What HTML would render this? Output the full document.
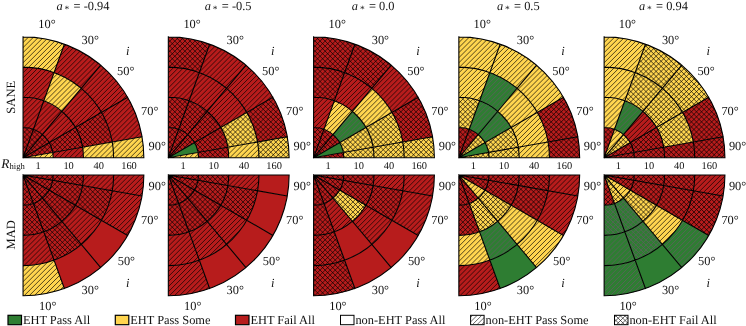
<!DOCTYPE html>
<html><head><meta charset="utf-8"><title>EHT constraints</title>
<style>
html,body{margin:0;padding:0;background:#fff}
svg{display:block}
text{font-family:"Liberation Serif",serif;font-size:12.4px;fill:#111;text-rendering:geometricPrecision}
.h{stroke:#000;stroke-opacity:0.85;stroke-width:0.8;fill:none}
.hg{stroke:#596359;stroke-opacity:1;stroke-width:0.9}
.o{stroke:#000;stroke-width:1.1;fill:none;stroke-linecap:square}
</style></head><body>
<svg width="746" height="326" viewBox="0 0 746 326">
<rect width="746" height="326" fill="#fff"/>
<defs>
<clipPath id="snt0"><path d="M23.05,157.7L33.38,129.32A30.2,30.2 0 0 0 23.05,127.5ZM23.05,157.7L42.46,134.57A30.2,30.2 0 0 0 33.38,129.32ZM23.05,157.7L49.2,142.6A30.2,30.2 0 0 0 42.46,134.57ZM23.05,157.7L52.79,152.46A30.2,30.2 0 0 0 49.2,142.6ZM23.05,157.7L53.25,157.7A30.2,30.2 0 0 0 52.79,152.46ZM23.05,127.5A30.2,30.2 0 0 1 33.38,129.32L43.71,100.94A60.4,60.4 0 0 0 23.05,97.3ZM33.38,129.32A30.2,30.2 0 0 1 42.46,134.57L61.87,111.43A60.4,60.4 0 0 0 43.71,100.94ZM42.46,134.57A30.2,30.2 0 0 1 49.2,142.6L75.36,127.5A60.4,60.4 0 0 0 61.87,111.43ZM49.2,142.6A30.2,30.2 0 0 1 52.79,152.46L82.53,147.21A60.4,60.4 0 0 0 75.36,127.5ZM52.79,152.46A30.2,30.2 0 0 1 53.25,157.7L83.45,157.7A60.4,60.4 0 0 0 82.53,147.21ZM23.05,97.3A60.4,60.4 0 0 1 43.71,100.94L54.04,72.56A90.6,90.6 0 0 0 23.05,67.1ZM43.71,100.94A60.4,60.4 0 0 1 61.87,111.43L81.29,88.3A90.6,90.6 0 0 0 54.04,72.56ZM61.87,111.43A60.4,60.4 0 0 1 75.36,127.5L101.51,112.4A90.6,90.6 0 0 0 81.29,88.3ZM75.36,127.5A60.4,60.4 0 0 1 82.53,147.21L112.27,141.97A90.6,90.6 0 0 0 101.51,112.4ZM82.53,147.21A60.4,60.4 0 0 1 83.45,157.7L113.65,157.7A90.6,90.6 0 0 0 112.27,141.97ZM23.05,67.1A90.6,90.6 0 0 1 54.04,72.56L64.37,44.19A120.8,120.8 0 0 0 23.05,36.9ZM54.04,72.56A90.6,90.6 0 0 1 81.29,88.3L100.7,65.16A120.8,120.8 0 0 0 64.37,44.19ZM81.29,88.3A90.6,90.6 0 0 1 101.51,112.4L127.67,97.3A120.8,120.8 0 0 0 100.7,65.16ZM101.51,112.4A90.6,90.6 0 0 1 112.27,141.97L142.01,136.72A120.8,120.8 0 0 0 127.67,97.3ZM112.27,141.97A90.6,90.6 0 0 1 113.65,157.7L143.85,157.7A120.8,120.8 0 0 0 142.01,136.72Z"/></clipPath>
<clipPath id="cnt0"><path d="M23.05,157.7L33.38,129.32A30.2,30.2 0 0 0 23.05,127.5ZM23.05,157.7L42.46,134.57A30.2,30.2 0 0 0 33.38,129.32ZM23.05,157.7L49.2,142.6A30.2,30.2 0 0 0 42.46,134.57ZM23.05,157.7L52.79,152.46A30.2,30.2 0 0 0 49.2,142.6ZM49.2,142.6A30.2,30.2 0 0 1 52.79,152.46L82.53,147.21A60.4,60.4 0 0 0 75.36,127.5ZM75.36,127.5A60.4,60.4 0 0 1 82.53,147.21L112.27,141.97A90.6,90.6 0 0 0 101.51,112.4Z"/></clipPath>
<clipPath id="snb0"><path d="M23.05,175L33.38,203.38A30.2,30.2 0 0 1 23.05,205.2ZM23.05,175L42.46,198.13A30.2,30.2 0 0 1 33.38,203.38ZM23.05,175L49.2,190.1A30.2,30.2 0 0 1 42.46,198.13ZM23.05,175L52.79,180.24A30.2,30.2 0 0 1 49.2,190.1ZM23.05,175L53.25,175A30.2,30.2 0 0 1 52.79,180.24ZM23.05,205.2A30.2,30.2 0 0 0 33.38,203.38L43.71,231.76A60.4,60.4 0 0 1 23.05,235.4ZM33.38,203.38A30.2,30.2 0 0 0 42.46,198.13L61.87,221.27A60.4,60.4 0 0 1 43.71,231.76ZM42.46,198.13A30.2,30.2 0 0 0 49.2,190.1L75.36,205.2A60.4,60.4 0 0 1 61.87,221.27ZM49.2,190.1A30.2,30.2 0 0 0 52.79,180.24L82.53,185.49A60.4,60.4 0 0 1 75.36,205.2ZM52.79,180.24A30.2,30.2 0 0 0 53.25,175L83.45,175A60.4,60.4 0 0 1 82.53,185.49ZM23.05,235.4A60.4,60.4 0 0 0 43.71,231.76L54.04,260.14A90.6,90.6 0 0 1 23.05,265.6ZM43.71,231.76A60.4,60.4 0 0 0 61.87,221.27L81.29,244.4A90.6,90.6 0 0 1 54.04,260.14ZM61.87,221.27A60.4,60.4 0 0 0 75.36,205.2L101.51,220.3A90.6,90.6 0 0 1 81.29,244.4ZM75.36,205.2A60.4,60.4 0 0 0 82.53,185.49L112.27,190.73A90.6,90.6 0 0 1 101.51,220.3ZM82.53,185.49A60.4,60.4 0 0 0 83.45,175L113.65,175A90.6,90.6 0 0 1 112.27,190.73ZM23.05,265.6A90.6,90.6 0 0 0 54.04,260.14L64.37,288.51A120.8,120.8 0 0 1 23.05,295.8ZM101.51,220.3A90.6,90.6 0 0 0 112.27,190.73L142.01,195.98A120.8,120.8 0 0 1 127.67,235.4ZM112.27,190.73A90.6,90.6 0 0 0 113.65,175L143.85,175A120.8,120.8 0 0 1 142.01,195.98Z"/></clipPath>
<clipPath id="cnb0"><path d="M23.05,175L33.38,203.38A30.2,30.2 0 0 1 23.05,205.2ZM23.05,175L42.46,198.13A30.2,30.2 0 0 1 33.38,203.38ZM23.05,175L49.2,190.1A30.2,30.2 0 0 1 42.46,198.13ZM23.05,175L52.79,180.24A30.2,30.2 0 0 1 49.2,190.1ZM23.05,175L53.25,175A30.2,30.2 0 0 1 52.79,180.24ZM23.05,205.2A30.2,30.2 0 0 0 33.38,203.38L43.71,231.76A60.4,60.4 0 0 1 23.05,235.4ZM33.38,203.38A30.2,30.2 0 0 0 42.46,198.13L61.87,221.27A60.4,60.4 0 0 1 43.71,231.76ZM42.46,198.13A30.2,30.2 0 0 0 49.2,190.1L75.36,205.2A60.4,60.4 0 0 1 61.87,221.27ZM49.2,190.1A30.2,30.2 0 0 0 52.79,180.24L82.53,185.49A60.4,60.4 0 0 1 75.36,205.2ZM52.79,180.24A30.2,30.2 0 0 0 53.25,175L83.45,175A60.4,60.4 0 0 1 82.53,185.49ZM43.71,231.76A60.4,60.4 0 0 0 61.87,221.27L81.29,244.4A90.6,90.6 0 0 1 54.04,260.14ZM75.36,205.2A60.4,60.4 0 0 0 82.53,185.49L112.27,190.73A90.6,90.6 0 0 1 101.51,220.3Z"/></clipPath>
<clipPath id="snt1"><path d="M168.32,157.7L178.65,129.32A30.2,30.2 0 0 0 168.32,127.5ZM168.32,157.7L187.73,134.57A30.2,30.2 0 0 0 178.65,129.32ZM168.32,157.7L194.47,142.6A30.2,30.2 0 0 0 187.73,134.57ZM168.32,157.7L198.52,157.7A30.2,30.2 0 0 0 198.06,152.46ZM168.32,127.5A30.2,30.2 0 0 1 178.65,129.32L188.98,100.94A60.4,60.4 0 0 0 168.32,97.3ZM178.65,129.32A30.2,30.2 0 0 1 187.73,134.57L207.14,111.43A60.4,60.4 0 0 0 188.98,100.94ZM187.73,134.57A30.2,30.2 0 0 1 194.47,142.6L220.63,127.5A60.4,60.4 0 0 0 207.14,111.43ZM194.47,142.6A30.2,30.2 0 0 1 198.06,152.46L227.8,147.21A60.4,60.4 0 0 0 220.63,127.5ZM198.06,152.46A30.2,30.2 0 0 1 198.52,157.7L228.72,157.7A60.4,60.4 0 0 0 227.8,147.21ZM168.32,97.3A60.4,60.4 0 0 1 188.98,100.94L199.31,72.56A90.6,90.6 0 0 0 168.32,67.1ZM188.98,100.94A60.4,60.4 0 0 1 207.14,111.43L226.56,88.3A90.6,90.6 0 0 0 199.31,72.56ZM207.14,111.43A60.4,60.4 0 0 1 220.63,127.5L246.78,112.4A90.6,90.6 0 0 0 226.56,88.3ZM220.63,127.5A60.4,60.4 0 0 1 227.8,147.21L257.54,141.97A90.6,90.6 0 0 0 246.78,112.4ZM227.8,147.21A60.4,60.4 0 0 1 228.72,157.7L258.92,157.7A90.6,90.6 0 0 0 257.54,141.97ZM168.32,67.1A90.6,90.6 0 0 1 199.31,72.56L209.64,44.19A120.8,120.8 0 0 0 168.32,36.9ZM199.31,72.56A90.6,90.6 0 0 1 226.56,88.3L245.97,65.16A120.8,120.8 0 0 0 209.64,44.19ZM226.56,88.3A90.6,90.6 0 0 1 246.78,112.4L272.94,97.3A120.8,120.8 0 0 0 245.97,65.16ZM246.78,112.4A90.6,90.6 0 0 1 257.54,141.97L287.28,136.72A120.8,120.8 0 0 0 272.94,97.3ZM257.54,141.97A90.6,90.6 0 0 1 258.92,157.7L289.12,157.7A120.8,120.8 0 0 0 287.28,136.72Z"/></clipPath>
<clipPath id="cnt1"><path d="M168.32,157.7L178.65,129.32A30.2,30.2 0 0 0 168.32,127.5ZM168.32,157.7L187.73,134.57A30.2,30.2 0 0 0 178.65,129.32ZM168.32,157.7L194.47,142.6A30.2,30.2 0 0 0 187.73,134.57ZM168.32,127.5A30.2,30.2 0 0 1 178.65,129.32L188.98,100.94A60.4,60.4 0 0 0 168.32,97.3ZM178.65,129.32A30.2,30.2 0 0 1 187.73,134.57L207.14,111.43A60.4,60.4 0 0 0 188.98,100.94ZM187.73,134.57A30.2,30.2 0 0 1 194.47,142.6L220.63,127.5A60.4,60.4 0 0 0 207.14,111.43ZM194.47,142.6A30.2,30.2 0 0 1 198.06,152.46L227.8,147.21A60.4,60.4 0 0 0 220.63,127.5ZM198.06,152.46A30.2,30.2 0 0 1 198.52,157.7L228.72,157.7A60.4,60.4 0 0 0 227.8,147.21ZM220.63,127.5A60.4,60.4 0 0 1 227.8,147.21L257.54,141.97A90.6,90.6 0 0 0 246.78,112.4ZM168.32,67.1A90.6,90.6 0 0 1 199.31,72.56L209.64,44.19A120.8,120.8 0 0 0 168.32,36.9ZM246.78,112.4A90.6,90.6 0 0 1 257.54,141.97L287.28,136.72A120.8,120.8 0 0 0 272.94,97.3ZM257.54,141.97A90.6,90.6 0 0 1 258.92,157.7L289.12,157.7A120.8,120.8 0 0 0 287.28,136.72Z"/></clipPath>
<clipPath id="snb1"><path d="M168.32,175L178.65,203.38A30.2,30.2 0 0 1 168.32,205.2ZM168.32,175L187.73,198.13A30.2,30.2 0 0 1 178.65,203.38ZM168.32,175L194.47,190.1A30.2,30.2 0 0 1 187.73,198.13ZM168.32,175L198.06,180.24A30.2,30.2 0 0 1 194.47,190.1ZM168.32,175L198.52,175A30.2,30.2 0 0 1 198.06,180.24ZM168.32,205.2A30.2,30.2 0 0 0 178.65,203.38L188.98,231.76A60.4,60.4 0 0 1 168.32,235.4ZM178.65,203.38A30.2,30.2 0 0 0 187.73,198.13L207.14,221.27A60.4,60.4 0 0 1 188.98,231.76ZM187.73,198.13A30.2,30.2 0 0 0 194.47,190.1L220.63,205.2A60.4,60.4 0 0 1 207.14,221.27ZM194.47,190.1A30.2,30.2 0 0 0 198.06,180.24L227.8,185.49A60.4,60.4 0 0 1 220.63,205.2ZM198.06,180.24A30.2,30.2 0 0 0 198.52,175L228.72,175A60.4,60.4 0 0 1 227.8,185.49ZM168.32,235.4A60.4,60.4 0 0 0 188.98,231.76L199.31,260.14A90.6,90.6 0 0 1 168.32,265.6ZM188.98,231.76A60.4,60.4 0 0 0 207.14,221.27L226.56,244.4A90.6,90.6 0 0 1 199.31,260.14ZM207.14,221.27A60.4,60.4 0 0 0 220.63,205.2L246.78,220.3A90.6,90.6 0 0 1 226.56,244.4ZM220.63,205.2A60.4,60.4 0 0 0 227.8,185.49L257.54,190.73A90.6,90.6 0 0 1 246.78,220.3ZM227.8,185.49A60.4,60.4 0 0 0 228.72,175L258.92,175A90.6,90.6 0 0 1 257.54,190.73ZM168.32,265.6A90.6,90.6 0 0 0 199.31,260.14L209.64,288.51A120.8,120.8 0 0 1 168.32,295.8Z"/></clipPath>
<clipPath id="cnb1"><path d="M168.32,175L178.65,203.38A30.2,30.2 0 0 1 168.32,205.2ZM168.32,175L187.73,198.13A30.2,30.2 0 0 1 178.65,203.38ZM168.32,175L194.47,190.1A30.2,30.2 0 0 1 187.73,198.13ZM168.32,175L198.06,180.24A30.2,30.2 0 0 1 194.47,190.1ZM168.32,175L198.52,175A30.2,30.2 0 0 1 198.06,180.24ZM168.32,205.2A30.2,30.2 0 0 0 178.65,203.38L188.98,231.76A60.4,60.4 0 0 1 168.32,235.4ZM178.65,203.38A30.2,30.2 0 0 0 187.73,198.13L207.14,221.27A60.4,60.4 0 0 1 188.98,231.76ZM187.73,198.13A30.2,30.2 0 0 0 194.47,190.1L220.63,205.2A60.4,60.4 0 0 1 207.14,221.27ZM194.47,190.1A30.2,30.2 0 0 0 198.06,180.24L227.8,185.49A60.4,60.4 0 0 1 220.63,205.2ZM198.06,180.24A30.2,30.2 0 0 0 198.52,175L228.72,175A60.4,60.4 0 0 1 227.8,185.49ZM220.63,205.2A60.4,60.4 0 0 0 227.8,185.49L257.54,190.73A90.6,90.6 0 0 1 246.78,220.3Z"/></clipPath>
<clipPath id="snt2"><path d="M313.59,157.7L323.92,129.32A30.2,30.2 0 0 0 313.59,127.5ZM313.59,157.7L333,134.57A30.2,30.2 0 0 0 323.92,129.32ZM313.59,157.7L339.74,142.6A30.2,30.2 0 0 0 333,134.57ZM313.59,157.7L343.79,157.7A30.2,30.2 0 0 0 343.33,152.46ZM313.59,127.5A30.2,30.2 0 0 1 323.92,129.32L334.25,100.94A60.4,60.4 0 0 0 313.59,97.3ZM323.92,129.32A30.2,30.2 0 0 1 333,134.57L352.41,111.43A60.4,60.4 0 0 0 334.25,100.94ZM339.74,142.6A30.2,30.2 0 0 1 343.33,152.46L373.07,147.21A60.4,60.4 0 0 0 365.9,127.5ZM343.33,152.46A30.2,30.2 0 0 1 343.79,157.7L373.99,157.7A60.4,60.4 0 0 0 373.07,147.21ZM313.59,97.3A60.4,60.4 0 0 1 334.25,100.94L344.58,72.56A90.6,90.6 0 0 0 313.59,67.1ZM334.25,100.94A60.4,60.4 0 0 1 352.41,111.43L371.83,88.3A90.6,90.6 0 0 0 344.58,72.56ZM352.41,111.43A60.4,60.4 0 0 1 365.9,127.5L392.05,112.4A90.6,90.6 0 0 0 371.83,88.3ZM365.9,127.5A60.4,60.4 0 0 1 373.07,147.21L402.81,141.97A90.6,90.6 0 0 0 392.05,112.4ZM373.07,147.21A60.4,60.4 0 0 1 373.99,157.7L404.19,157.7A90.6,90.6 0 0 0 402.81,141.97ZM313.59,67.1A90.6,90.6 0 0 1 344.58,72.56L354.91,44.19A120.8,120.8 0 0 0 313.59,36.9ZM344.58,72.56A90.6,90.6 0 0 1 371.83,88.3L391.24,65.16A120.8,120.8 0 0 0 354.91,44.19ZM371.83,88.3A90.6,90.6 0 0 1 392.05,112.4L418.21,97.3A120.8,120.8 0 0 0 391.24,65.16ZM392.05,112.4A90.6,90.6 0 0 1 402.81,141.97L432.55,136.72A120.8,120.8 0 0 0 418.21,97.3ZM402.81,141.97A90.6,90.6 0 0 1 404.19,157.7L434.39,157.7A120.8,120.8 0 0 0 432.55,136.72Z"/></clipPath>
<clipPath id="cnt2"><path d="M313.59,157.7L323.92,129.32A30.2,30.2 0 0 0 313.59,127.5ZM313.59,157.7L333,134.57A30.2,30.2 0 0 0 323.92,129.32ZM313.59,157.7L339.74,142.6A30.2,30.2 0 0 0 333,134.57ZM313.59,157.7L343.79,157.7A30.2,30.2 0 0 0 343.33,152.46ZM339.74,142.6A30.2,30.2 0 0 1 343.33,152.46L373.07,147.21A60.4,60.4 0 0 0 365.9,127.5ZM343.33,152.46A30.2,30.2 0 0 1 343.79,157.7L373.99,157.7A60.4,60.4 0 0 0 373.07,147.21ZM313.59,97.3A60.4,60.4 0 0 1 334.25,100.94L344.58,72.56A90.6,90.6 0 0 0 313.59,67.1ZM365.9,127.5A60.4,60.4 0 0 1 373.07,147.21L402.81,141.97A90.6,90.6 0 0 0 392.05,112.4ZM373.07,147.21A60.4,60.4 0 0 1 373.99,157.7L404.19,157.7A90.6,90.6 0 0 0 402.81,141.97ZM313.59,67.1A90.6,90.6 0 0 1 344.58,72.56L354.91,44.19A120.8,120.8 0 0 0 313.59,36.9ZM344.58,72.56A90.6,90.6 0 0 1 371.83,88.3L391.24,65.16A120.8,120.8 0 0 0 354.91,44.19ZM392.05,112.4A90.6,90.6 0 0 1 402.81,141.97L432.55,136.72A120.8,120.8 0 0 0 418.21,97.3ZM402.81,141.97A90.6,90.6 0 0 1 404.19,157.7L434.39,157.7A120.8,120.8 0 0 0 432.55,136.72Z"/></clipPath>
<clipPath id="sgt2"><path d="M333,134.57A30.2,30.2 0 0 1 339.74,142.6L365.9,127.5A60.4,60.4 0 0 0 352.41,111.43Z"/></clipPath>
<clipPath id="snb2"><path d="M313.59,175L323.92,203.38A30.2,30.2 0 0 1 313.59,205.2ZM313.59,175L333,198.13A30.2,30.2 0 0 1 323.92,203.38ZM313.59,175L339.74,190.1A30.2,30.2 0 0 1 333,198.13ZM313.59,175L343.33,180.24A30.2,30.2 0 0 1 339.74,190.1ZM313.59,175L343.79,175A30.2,30.2 0 0 1 343.33,180.24ZM313.59,205.2A30.2,30.2 0 0 0 323.92,203.38L334.25,231.76A60.4,60.4 0 0 1 313.59,235.4ZM323.92,203.38A30.2,30.2 0 0 0 333,198.13L352.41,221.27A60.4,60.4 0 0 1 334.25,231.76ZM333,198.13A30.2,30.2 0 0 0 339.74,190.1L365.9,205.2A60.4,60.4 0 0 1 352.41,221.27ZM339.74,190.1A30.2,30.2 0 0 0 343.33,180.24L373.07,185.49A60.4,60.4 0 0 1 365.9,205.2ZM343.33,180.24A30.2,30.2 0 0 0 343.79,175L373.99,175A60.4,60.4 0 0 1 373.07,185.49ZM313.59,235.4A60.4,60.4 0 0 0 334.25,231.76L344.58,260.14A90.6,90.6 0 0 1 313.59,265.6ZM352.41,221.27A60.4,60.4 0 0 0 365.9,205.2L392.05,220.3A90.6,90.6 0 0 1 371.83,244.4ZM365.9,205.2A60.4,60.4 0 0 0 373.07,185.49L402.81,190.73A90.6,90.6 0 0 1 392.05,220.3ZM373.07,185.49A60.4,60.4 0 0 0 373.99,175L404.19,175A90.6,90.6 0 0 1 402.81,190.73ZM313.59,265.6A90.6,90.6 0 0 0 344.58,260.14L354.91,288.51A120.8,120.8 0 0 1 313.59,295.8ZM392.05,220.3A90.6,90.6 0 0 0 402.81,190.73L432.55,195.98A120.8,120.8 0 0 1 418.21,235.4ZM402.81,190.73A90.6,90.6 0 0 0 404.19,175L434.39,175A120.8,120.8 0 0 1 432.55,195.98Z"/></clipPath>
<clipPath id="cnb2"><path d="M313.59,175L323.92,203.38A30.2,30.2 0 0 1 313.59,205.2ZM313.59,175L333,198.13A30.2,30.2 0 0 1 323.92,203.38ZM313.59,175L339.74,190.1A30.2,30.2 0 0 1 333,198.13ZM313.59,175L343.33,180.24A30.2,30.2 0 0 1 339.74,190.1ZM313.59,175L343.79,175A30.2,30.2 0 0 1 343.33,180.24ZM313.59,205.2A30.2,30.2 0 0 0 323.92,203.38L334.25,231.76A60.4,60.4 0 0 1 313.59,235.4ZM333,198.13A30.2,30.2 0 0 0 339.74,190.1L365.9,205.2A60.4,60.4 0 0 1 352.41,221.27ZM339.74,190.1A30.2,30.2 0 0 0 343.33,180.24L373.07,185.49A60.4,60.4 0 0 1 365.9,205.2ZM343.33,180.24A30.2,30.2 0 0 0 343.79,175L373.99,175A60.4,60.4 0 0 1 373.07,185.49ZM313.59,235.4A60.4,60.4 0 0 0 334.25,231.76L344.58,260.14A90.6,90.6 0 0 1 313.59,265.6ZM365.9,205.2A60.4,60.4 0 0 0 373.07,185.49L402.81,190.73A90.6,90.6 0 0 1 392.05,220.3ZM313.59,265.6A90.6,90.6 0 0 0 344.58,260.14L354.91,288.51A120.8,120.8 0 0 1 313.59,295.8Z"/></clipPath>
<clipPath id="snt3"><path d="M458.86,157.7L469.19,129.32A30.2,30.2 0 0 0 458.86,127.5ZM458.86,157.7L478.27,134.57A30.2,30.2 0 0 0 469.19,129.32ZM458.86,157.7L485.01,142.6A30.2,30.2 0 0 0 478.27,134.57ZM458.86,157.7L489.06,157.7A30.2,30.2 0 0 0 488.6,152.46ZM458.86,127.5A30.2,30.2 0 0 1 469.19,129.32L479.52,100.94A60.4,60.4 0 0 0 458.86,97.3ZM485.01,142.6A30.2,30.2 0 0 1 488.6,152.46L518.34,147.21A60.4,60.4 0 0 0 511.17,127.5ZM488.6,152.46A30.2,30.2 0 0 1 489.06,157.7L519.26,157.7A60.4,60.4 0 0 0 518.34,147.21ZM458.86,97.3A60.4,60.4 0 0 1 479.52,100.94L489.85,72.56A90.6,90.6 0 0 0 458.86,67.1ZM497.68,111.43A60.4,60.4 0 0 1 511.17,127.5L537.32,112.4A90.6,90.6 0 0 0 517.1,88.3ZM511.17,127.5A60.4,60.4 0 0 1 518.34,147.21L548.08,141.97A90.6,90.6 0 0 0 537.32,112.4ZM518.34,147.21A60.4,60.4 0 0 1 519.26,157.7L549.46,157.7A90.6,90.6 0 0 0 548.08,141.97ZM458.86,67.1A90.6,90.6 0 0 1 489.85,72.56L500.18,44.19A120.8,120.8 0 0 0 458.86,36.9ZM489.85,72.56A90.6,90.6 0 0 1 517.1,88.3L536.51,65.16A120.8,120.8 0 0 0 500.18,44.19ZM517.1,88.3A90.6,90.6 0 0 1 537.32,112.4L563.48,97.3A120.8,120.8 0 0 0 536.51,65.16ZM537.32,112.4A90.6,90.6 0 0 1 548.08,141.97L577.82,136.72A120.8,120.8 0 0 0 563.48,97.3ZM548.08,141.97A90.6,90.6 0 0 1 549.46,157.7L579.66,157.7A120.8,120.8 0 0 0 577.82,136.72Z"/></clipPath>
<clipPath id="cnt3"><path d="M458.86,157.7L469.19,129.32A30.2,30.2 0 0 0 458.86,127.5ZM458.86,157.7L478.27,134.57A30.2,30.2 0 0 0 469.19,129.32ZM458.86,157.7L485.01,142.6A30.2,30.2 0 0 0 478.27,134.57ZM458.86,157.7L489.06,157.7A30.2,30.2 0 0 0 488.6,152.46ZM458.86,127.5A30.2,30.2 0 0 1 469.19,129.32L479.52,100.94A60.4,60.4 0 0 0 458.86,97.3ZM485.01,142.6A30.2,30.2 0 0 1 488.6,152.46L518.34,147.21A60.4,60.4 0 0 0 511.17,127.5ZM488.6,152.46A30.2,30.2 0 0 1 489.06,157.7L519.26,157.7A60.4,60.4 0 0 0 518.34,147.21ZM537.32,112.4A90.6,90.6 0 0 1 548.08,141.97L577.82,136.72A120.8,120.8 0 0 0 563.48,97.3ZM548.08,141.97A90.6,90.6 0 0 1 549.46,157.7L579.66,157.7A120.8,120.8 0 0 0 577.82,136.72Z"/></clipPath>
<clipPath id="sgt3"><path d="M469.19,129.32A30.2,30.2 0 0 1 478.27,134.57L497.68,111.43A60.4,60.4 0 0 0 479.52,100.94ZM478.27,134.57A30.2,30.2 0 0 1 485.01,142.6L511.17,127.5A60.4,60.4 0 0 0 497.68,111.43ZM479.52,100.94A60.4,60.4 0 0 1 497.68,111.43L517.1,88.3A90.6,90.6 0 0 0 489.85,72.56Z"/></clipPath>
<clipPath id="snb3"><path d="M458.86,175L469.19,203.38A30.2,30.2 0 0 1 458.86,205.2ZM458.86,175L478.27,198.13A30.2,30.2 0 0 1 469.19,203.38ZM458.86,175L485.01,190.1A30.2,30.2 0 0 1 478.27,198.13ZM458.86,175L488.6,180.24A30.2,30.2 0 0 1 485.01,190.1ZM458.86,175L489.06,175A30.2,30.2 0 0 1 488.6,180.24ZM458.86,205.2A30.2,30.2 0 0 0 469.19,203.38L479.52,231.76A60.4,60.4 0 0 1 458.86,235.4ZM469.19,203.38A30.2,30.2 0 0 0 478.27,198.13L497.68,221.27A60.4,60.4 0 0 1 479.52,231.76ZM478.27,198.13A30.2,30.2 0 0 0 485.01,190.1L511.17,205.2A60.4,60.4 0 0 1 497.68,221.27ZM485.01,190.1A30.2,30.2 0 0 0 488.6,180.24L518.34,185.49A60.4,60.4 0 0 1 511.17,205.2ZM488.6,180.24A30.2,30.2 0 0 0 489.06,175L519.26,175A60.4,60.4 0 0 1 518.34,185.49ZM458.86,235.4A60.4,60.4 0 0 0 479.52,231.76L489.85,260.14A90.6,90.6 0 0 1 458.86,265.6ZM497.68,221.27A60.4,60.4 0 0 0 511.17,205.2L537.32,220.3A90.6,90.6 0 0 1 517.1,244.4ZM511.17,205.2A60.4,60.4 0 0 0 518.34,185.49L548.08,190.73A90.6,90.6 0 0 1 537.32,220.3ZM518.34,185.49A60.4,60.4 0 0 0 519.26,175L549.46,175A90.6,90.6 0 0 1 548.08,190.73ZM458.86,265.6A90.6,90.6 0 0 0 489.85,260.14L500.18,288.51A120.8,120.8 0 0 1 458.86,295.8ZM517.1,244.4A90.6,90.6 0 0 0 537.32,220.3L563.48,235.4A120.8,120.8 0 0 1 536.51,267.54ZM537.32,220.3A90.6,90.6 0 0 0 548.08,190.73L577.82,195.98A120.8,120.8 0 0 1 563.48,235.4ZM548.08,190.73A90.6,90.6 0 0 0 549.46,175L579.66,175A120.8,120.8 0 0 1 577.82,195.98Z"/></clipPath>
<clipPath id="cnb3"><path d="M458.86,175L469.19,203.38A30.2,30.2 0 0 1 458.86,205.2ZM458.86,175L478.27,198.13A30.2,30.2 0 0 1 469.19,203.38ZM458.86,175L488.6,180.24A30.2,30.2 0 0 1 485.01,190.1ZM458.86,175L489.06,175A30.2,30.2 0 0 1 488.6,180.24ZM458.86,205.2A30.2,30.2 0 0 0 469.19,203.38L479.52,231.76A60.4,60.4 0 0 1 458.86,235.4ZM469.19,203.38A30.2,30.2 0 0 0 478.27,198.13L497.68,221.27A60.4,60.4 0 0 1 479.52,231.76ZM478.27,198.13A30.2,30.2 0 0 0 485.01,190.1L511.17,205.2A60.4,60.4 0 0 1 497.68,221.27ZM485.01,190.1A30.2,30.2 0 0 0 488.6,180.24L518.34,185.49A60.4,60.4 0 0 1 511.17,205.2ZM488.6,180.24A30.2,30.2 0 0 0 489.06,175L519.26,175A60.4,60.4 0 0 1 518.34,185.49ZM511.17,205.2A60.4,60.4 0 0 0 518.34,185.49L548.08,190.73A90.6,90.6 0 0 1 537.32,220.3ZM518.34,185.49A60.4,60.4 0 0 0 519.26,175L549.46,175A90.6,90.6 0 0 1 548.08,190.73Z"/></clipPath>
<clipPath id="sgb3"><path d="M479.52,231.76A60.4,60.4 0 0 0 497.68,221.27L517.1,244.4A90.6,90.6 0 0 1 489.85,260.14Z"/></clipPath>
<clipPath id="snt4"><path d="M604.13,157.7L614.46,129.32A30.2,30.2 0 0 0 604.13,127.5ZM604.13,157.7L623.54,134.57A30.2,30.2 0 0 0 614.46,129.32ZM604.13,157.7L630.28,142.6A30.2,30.2 0 0 0 623.54,134.57ZM604.13,157.7L633.87,152.46A30.2,30.2 0 0 0 630.28,142.6ZM604.13,157.7L634.33,157.7A30.2,30.2 0 0 0 633.87,152.46ZM604.13,127.5A30.2,30.2 0 0 1 614.46,129.32L624.79,100.94A60.4,60.4 0 0 0 604.13,97.3ZM623.54,134.57A30.2,30.2 0 0 1 630.28,142.6L656.44,127.5A60.4,60.4 0 0 0 642.95,111.43ZM630.28,142.6A30.2,30.2 0 0 1 633.87,152.46L663.61,147.21A60.4,60.4 0 0 0 656.44,127.5ZM633.87,152.46A30.2,30.2 0 0 1 634.33,157.7L664.53,157.7A60.4,60.4 0 0 0 663.61,147.21ZM604.13,97.3A60.4,60.4 0 0 1 624.79,100.94L635.12,72.56A90.6,90.6 0 0 0 604.13,67.1ZM624.79,100.94A60.4,60.4 0 0 1 642.95,111.43L662.37,88.3A90.6,90.6 0 0 0 635.12,72.56ZM642.95,111.43A60.4,60.4 0 0 1 656.44,127.5L682.59,112.4A90.6,90.6 0 0 0 662.37,88.3ZM656.44,127.5A60.4,60.4 0 0 1 663.61,147.21L693.35,141.97A90.6,90.6 0 0 0 682.59,112.4ZM663.61,147.21A60.4,60.4 0 0 1 664.53,157.7L694.73,157.7A90.6,90.6 0 0 0 693.35,141.97ZM604.13,67.1A90.6,90.6 0 0 1 635.12,72.56L645.45,44.19A120.8,120.8 0 0 0 604.13,36.9ZM635.12,72.56A90.6,90.6 0 0 1 662.37,88.3L681.78,65.16A120.8,120.8 0 0 0 645.45,44.19ZM662.37,88.3A90.6,90.6 0 0 1 682.59,112.4L708.75,97.3A120.8,120.8 0 0 0 681.78,65.16ZM682.59,112.4A90.6,90.6 0 0 1 693.35,141.97L723.09,136.72A120.8,120.8 0 0 0 708.75,97.3ZM693.35,141.97A90.6,90.6 0 0 1 694.73,157.7L724.93,157.7A120.8,120.8 0 0 0 723.09,136.72Z"/></clipPath>
<clipPath id="cnt4"><path d="M604.13,157.7L614.46,129.32A30.2,30.2 0 0 0 604.13,127.5ZM604.13,157.7L630.28,142.6A30.2,30.2 0 0 0 623.54,134.57ZM604.13,157.7L633.87,152.46A30.2,30.2 0 0 0 630.28,142.6ZM604.13,157.7L634.33,157.7A30.2,30.2 0 0 0 633.87,152.46ZM630.28,142.6A30.2,30.2 0 0 1 633.87,152.46L663.61,147.21A60.4,60.4 0 0 0 656.44,127.5ZM633.87,152.46A30.2,30.2 0 0 1 634.33,157.7L664.53,157.7A60.4,60.4 0 0 0 663.61,147.21ZM624.79,100.94A60.4,60.4 0 0 1 642.95,111.43L662.37,88.3A90.6,90.6 0 0 0 635.12,72.56ZM642.95,111.43A60.4,60.4 0 0 1 656.44,127.5L682.59,112.4A90.6,90.6 0 0 0 662.37,88.3ZM656.44,127.5A60.4,60.4 0 0 1 663.61,147.21L693.35,141.97A90.6,90.6 0 0 0 682.59,112.4ZM663.61,147.21A60.4,60.4 0 0 1 664.53,157.7L694.73,157.7A90.6,90.6 0 0 0 693.35,141.97ZM635.12,72.56A90.6,90.6 0 0 1 662.37,88.3L681.78,65.16A120.8,120.8 0 0 0 645.45,44.19ZM662.37,88.3A90.6,90.6 0 0 1 682.59,112.4L708.75,97.3A120.8,120.8 0 0 0 681.78,65.16ZM682.59,112.4A90.6,90.6 0 0 1 693.35,141.97L723.09,136.72A120.8,120.8 0 0 0 708.75,97.3ZM693.35,141.97A90.6,90.6 0 0 1 694.73,157.7L724.93,157.7A120.8,120.8 0 0 0 723.09,136.72Z"/></clipPath>
<clipPath id="sgt4"><path d="M614.46,129.32A30.2,30.2 0 0 1 623.54,134.57L642.95,111.43A60.4,60.4 0 0 0 624.79,100.94Z"/></clipPath>
<clipPath id="snb4"><path d="M604.13,175L614.46,203.38A30.2,30.2 0 0 1 604.13,205.2ZM604.13,175L623.54,198.13A30.2,30.2 0 0 1 614.46,203.38ZM604.13,175L630.28,190.1A30.2,30.2 0 0 1 623.54,198.13ZM604.13,175L633.87,180.24A30.2,30.2 0 0 1 630.28,190.1ZM604.13,175L634.33,175A30.2,30.2 0 0 1 633.87,180.24ZM623.54,198.13A30.2,30.2 0 0 0 630.28,190.1L656.44,205.2A60.4,60.4 0 0 1 642.95,221.27ZM630.28,190.1A30.2,30.2 0 0 0 633.87,180.24L663.61,185.49A60.4,60.4 0 0 1 656.44,205.2ZM633.87,180.24A30.2,30.2 0 0 0 634.33,175L664.53,175A60.4,60.4 0 0 1 663.61,185.49ZM642.95,221.27A60.4,60.4 0 0 0 656.44,205.2L682.59,220.3A90.6,90.6 0 0 1 662.37,244.4ZM656.44,205.2A60.4,60.4 0 0 0 663.61,185.49L693.35,190.73A90.6,90.6 0 0 1 682.59,220.3ZM663.61,185.49A60.4,60.4 0 0 0 664.53,175L694.73,175A90.6,90.6 0 0 1 693.35,190.73ZM682.59,220.3A90.6,90.6 0 0 0 693.35,190.73L723.09,195.98A120.8,120.8 0 0 1 708.75,235.4ZM693.35,190.73A90.6,90.6 0 0 0 694.73,175L724.93,175A120.8,120.8 0 0 1 723.09,195.98Z"/></clipPath>
<clipPath id="cnb4"><path d="M604.13,175L614.46,203.38A30.2,30.2 0 0 1 604.13,205.2ZM604.13,175L623.54,198.13A30.2,30.2 0 0 1 614.46,203.38ZM604.13,175L633.87,180.24A30.2,30.2 0 0 1 630.28,190.1ZM604.13,175L634.33,175A30.2,30.2 0 0 1 633.87,180.24ZM623.54,198.13A30.2,30.2 0 0 0 630.28,190.1L656.44,205.2A60.4,60.4 0 0 1 642.95,221.27ZM630.28,190.1A30.2,30.2 0 0 0 633.87,180.24L663.61,185.49A60.4,60.4 0 0 1 656.44,205.2ZM633.87,180.24A30.2,30.2 0 0 0 634.33,175L664.53,175A60.4,60.4 0 0 1 663.61,185.49ZM656.44,205.2A60.4,60.4 0 0 0 663.61,185.49L693.35,190.73A90.6,90.6 0 0 1 682.59,220.3ZM663.61,185.49A60.4,60.4 0 0 0 664.53,175L694.73,175A90.6,90.6 0 0 1 693.35,190.73ZM682.59,220.3A90.6,90.6 0 0 0 693.35,190.73L723.09,195.98A120.8,120.8 0 0 1 708.75,235.4Z"/></clipPath>
<clipPath id="sgb4"><path d="M604.13,205.2A30.2,30.2 0 0 0 614.46,203.38L624.79,231.76A60.4,60.4 0 0 1 604.13,235.4ZM614.46,203.38A30.2,30.2 0 0 0 623.54,198.13L642.95,221.27A60.4,60.4 0 0 1 624.79,231.76ZM604.13,235.4A60.4,60.4 0 0 0 624.79,231.76L635.12,260.14A90.6,90.6 0 0 1 604.13,265.6ZM624.79,231.76A60.4,60.4 0 0 0 642.95,221.27L662.37,244.4A90.6,90.6 0 0 1 635.12,260.14ZM604.13,265.6A90.6,90.6 0 0 0 635.12,260.14L645.45,288.51A120.8,120.8 0 0 1 604.13,295.8ZM662.37,244.4A90.6,90.6 0 0 0 682.59,220.3L708.75,235.4A120.8,120.8 0 0 1 681.78,267.54Z"/></clipPath>
<clipPath id="cgb4"><path d="M604.13,205.2A30.2,30.2 0 0 0 614.46,203.38L624.79,231.76A60.4,60.4 0 0 1 604.13,235.4ZM614.46,203.38A30.2,30.2 0 0 0 623.54,198.13L642.95,221.27A60.4,60.4 0 0 1 624.79,231.76ZM624.79,231.76A60.4,60.4 0 0 0 642.95,221.27L662.37,244.4A90.6,90.6 0 0 1 635.12,260.14Z"/></clipPath>
<clipPath id="l4"><rect x="470.6" y="315.3" width="13.5" height="9.4"/></clipPath>
<clipPath id="l5"><rect x="614.5" y="315.3" width="13.5" height="9.4"/></clipPath>
</defs>
<path d="M23.05,157.7L33.38,129.32A30.2,30.2 0 0 0 23.05,127.5Z" fill="#b71c1c"/>
<path d="M23.05,157.7L42.46,134.57A30.2,30.2 0 0 0 33.38,129.32Z" fill="#b71c1c"/>
<path d="M23.05,157.7L49.2,142.6A30.2,30.2 0 0 0 42.46,134.57Z" fill="#b71c1c"/>
<path d="M23.05,157.7L52.79,152.46A30.2,30.2 0 0 0 49.2,142.6Z" fill="#b71c1c"/>
<path d="M23.05,157.7L53.25,157.7A30.2,30.2 0 0 0 52.79,152.46Z" fill="#ffd54f"/>
<path d="M23.05,127.5A30.2,30.2 0 0 1 33.38,129.32L43.71,100.94A60.4,60.4 0 0 0 23.05,97.3Z" fill="#b71c1c"/>
<path d="M33.38,129.32A30.2,30.2 0 0 1 42.46,134.57L61.87,111.43A60.4,60.4 0 0 0 43.71,100.94Z" fill="#b71c1c"/>
<path d="M42.46,134.57A30.2,30.2 0 0 1 49.2,142.6L75.36,127.5A60.4,60.4 0 0 0 61.87,111.43Z" fill="#b71c1c"/>
<path d="M49.2,142.6A30.2,30.2 0 0 1 52.79,152.46L82.53,147.21A60.4,60.4 0 0 0 75.36,127.5Z" fill="#b71c1c"/>
<path d="M52.79,152.46A30.2,30.2 0 0 1 53.25,157.7L83.45,157.7A60.4,60.4 0 0 0 82.53,147.21Z" fill="#b71c1c"/>
<path d="M23.05,97.3A60.4,60.4 0 0 1 43.71,100.94L54.04,72.56A90.6,90.6 0 0 0 23.05,67.1Z" fill="#b71c1c"/>
<path d="M43.71,100.94A60.4,60.4 0 0 1 61.87,111.43L81.29,88.3A90.6,90.6 0 0 0 54.04,72.56Z" fill="#ffd54f"/>
<path d="M61.87,111.43A60.4,60.4 0 0 1 75.36,127.5L101.51,112.4A90.6,90.6 0 0 0 81.29,88.3Z" fill="#b71c1c"/>
<path d="M75.36,127.5A60.4,60.4 0 0 1 82.53,147.21L112.27,141.97A90.6,90.6 0 0 0 101.51,112.4Z" fill="#b71c1c"/>
<path d="M82.53,147.21A60.4,60.4 0 0 1 83.45,157.7L113.65,157.7A90.6,90.6 0 0 0 112.27,141.97Z" fill="#ffd54f"/>
<path d="M23.05,67.1A90.6,90.6 0 0 1 54.04,72.56L64.37,44.19A120.8,120.8 0 0 0 23.05,36.9Z" fill="#ffd54f"/>
<path d="M54.04,72.56A90.6,90.6 0 0 1 81.29,88.3L100.7,65.16A120.8,120.8 0 0 0 64.37,44.19Z" fill="#b71c1c"/>
<path d="M81.29,88.3A90.6,90.6 0 0 1 101.51,112.4L127.67,97.3A120.8,120.8 0 0 0 100.7,65.16Z" fill="#b71c1c"/>
<path d="M101.51,112.4A90.6,90.6 0 0 1 112.27,141.97L142.01,136.72A120.8,120.8 0 0 0 127.67,97.3Z" fill="#b71c1c"/>
<path d="M112.27,141.97A90.6,90.6 0 0 1 113.65,157.7L143.85,157.7A120.8,120.8 0 0 0 142.01,136.72Z" fill="#ffd54f"/>
<path clip-path="url(#snt0)" d="M23.65,36.9l-120.8,120.8M28.7,36.9l-120.8,120.8M33.75,36.9l-120.8,120.8M38.8,36.9l-120.8,120.8M43.85,36.9l-120.8,120.8M48.9,36.9l-120.8,120.8M53.95,36.9l-120.8,120.8M59,36.9l-120.8,120.8M64.05,36.9l-120.8,120.8M69.1,36.9l-120.8,120.8M74.15,36.9l-120.8,120.8M79.2,36.9l-120.8,120.8M84.25,36.9l-120.8,120.8M89.3,36.9l-120.8,120.8M94.35,36.9l-120.8,120.8M99.4,36.9l-120.8,120.8M104.45,36.9l-120.8,120.8M109.5,36.9l-120.8,120.8M114.55,36.9l-120.8,120.8M119.6,36.9l-120.8,120.8M124.65,36.9l-120.8,120.8M129.7,36.9l-120.8,120.8M134.75,36.9l-120.8,120.8M139.8,36.9l-120.8,120.8M144.85,36.9l-120.8,120.8M149.9,36.9l-120.8,120.8M154.95,36.9l-120.8,120.8M160,36.9l-120.8,120.8M165.05,36.9l-120.8,120.8M170.1,36.9l-120.8,120.8M175.15,36.9l-120.8,120.8M180.2,36.9l-120.8,120.8M185.25,36.9l-120.8,120.8M190.3,36.9l-120.8,120.8M195.35,36.9l-120.8,120.8M200.4,36.9l-120.8,120.8M205.45,36.9l-120.8,120.8M210.5,36.9l-120.8,120.8M215.55,36.9l-120.8,120.8M220.6,36.9l-120.8,120.8M225.65,36.9l-120.8,120.8M230.7,36.9l-120.8,120.8M235.75,36.9l-120.8,120.8M240.8,36.9l-120.8,120.8M245.85,36.9l-120.8,120.8M250.9,36.9l-120.8,120.8M255.95,36.9l-120.8,120.8M261,36.9l-120.8,120.8M266.05,36.9l-120.8,120.8" class="h"/>
<path clip-path="url(#cnt0)" d="M-95.85,36.9l120.8,120.8M-90.8,36.9l120.8,120.8M-85.75,36.9l120.8,120.8M-80.7,36.9l120.8,120.8M-75.65,36.9l120.8,120.8M-70.6,36.9l120.8,120.8M-65.55,36.9l120.8,120.8M-60.5,36.9l120.8,120.8M-55.45,36.9l120.8,120.8M-50.4,36.9l120.8,120.8M-45.35,36.9l120.8,120.8M-40.3,36.9l120.8,120.8M-35.25,36.9l120.8,120.8M-30.2,36.9l120.8,120.8M-25.15,36.9l120.8,120.8M-20.1,36.9l120.8,120.8M-15.05,36.9l120.8,120.8M-10,36.9l120.8,120.8M-4.95,36.9l120.8,120.8M0.1,36.9l120.8,120.8M5.15,36.9l120.8,120.8M10.2,36.9l120.8,120.8M15.25,36.9l120.8,120.8M20.3,36.9l120.8,120.8M25.35,36.9l120.8,120.8M30.4,36.9l120.8,120.8M35.45,36.9l120.8,120.8M40.5,36.9l120.8,120.8M45.55,36.9l120.8,120.8M50.6,36.9l120.8,120.8M55.65,36.9l120.8,120.8M60.7,36.9l120.8,120.8M65.75,36.9l120.8,120.8M70.8,36.9l120.8,120.8M75.85,36.9l120.8,120.8M80.9,36.9l120.8,120.8M85.95,36.9l120.8,120.8M91,36.9l120.8,120.8M96.05,36.9l120.8,120.8M101.1,36.9l120.8,120.8M106.15,36.9l120.8,120.8M111.2,36.9l120.8,120.8M116.25,36.9l120.8,120.8M121.3,36.9l120.8,120.8M126.35,36.9l120.8,120.8M131.4,36.9l120.8,120.8M136.45,36.9l120.8,120.8M141.5,36.9l120.8,120.8M146.55,36.9l120.8,120.8" class="h"/>
<path d="M23.05,157.7L23.05,36.9M23.05,157.7L64.37,44.19M23.05,157.7L100.7,65.16M23.05,157.7L127.67,97.3M23.05,157.7L142.01,136.72M23.05,157.7L143.85,157.7M23.05,127.5A30.2,30.2 0 0 1 53.25,157.7M23.05,97.3A60.4,60.4 0 0 1 83.45,157.7M23.05,67.1A90.6,90.6 0 0 1 113.65,157.7M23.05,36.9A120.8,120.8 0 0 1 143.85,157.7" class="o"/>
<path d="M23.05,175L33.38,203.38A30.2,30.2 0 0 1 23.05,205.2Z" fill="#b71c1c"/>
<path d="M23.05,175L42.46,198.13A30.2,30.2 0 0 1 33.38,203.38Z" fill="#b71c1c"/>
<path d="M23.05,175L49.2,190.1A30.2,30.2 0 0 1 42.46,198.13Z" fill="#b71c1c"/>
<path d="M23.05,175L52.79,180.24A30.2,30.2 0 0 1 49.2,190.1Z" fill="#b71c1c"/>
<path d="M23.05,175L53.25,175A30.2,30.2 0 0 1 52.79,180.24Z" fill="#b71c1c"/>
<path d="M23.05,205.2A30.2,30.2 0 0 0 33.38,203.38L43.71,231.76A60.4,60.4 0 0 1 23.05,235.4Z" fill="#b71c1c"/>
<path d="M33.38,203.38A30.2,30.2 0 0 0 42.46,198.13L61.87,221.27A60.4,60.4 0 0 1 43.71,231.76Z" fill="#b71c1c"/>
<path d="M42.46,198.13A30.2,30.2 0 0 0 49.2,190.1L75.36,205.2A60.4,60.4 0 0 1 61.87,221.27Z" fill="#b71c1c"/>
<path d="M49.2,190.1A30.2,30.2 0 0 0 52.79,180.24L82.53,185.49A60.4,60.4 0 0 1 75.36,205.2Z" fill="#b71c1c"/>
<path d="M52.79,180.24A30.2,30.2 0 0 0 53.25,175L83.45,175A60.4,60.4 0 0 1 82.53,185.49Z" fill="#b71c1c"/>
<path d="M23.05,235.4A60.4,60.4 0 0 0 43.71,231.76L54.04,260.14A90.6,90.6 0 0 1 23.05,265.6Z" fill="#b71c1c"/>
<path d="M43.71,231.76A60.4,60.4 0 0 0 61.87,221.27L81.29,244.4A90.6,90.6 0 0 1 54.04,260.14Z" fill="#b71c1c"/>
<path d="M61.87,221.27A60.4,60.4 0 0 0 75.36,205.2L101.51,220.3A90.6,90.6 0 0 1 81.29,244.4Z" fill="#b71c1c"/>
<path d="M75.36,205.2A60.4,60.4 0 0 0 82.53,185.49L112.27,190.73A90.6,90.6 0 0 1 101.51,220.3Z" fill="#b71c1c"/>
<path d="M82.53,185.49A60.4,60.4 0 0 0 83.45,175L113.65,175A90.6,90.6 0 0 1 112.27,190.73Z" fill="#b71c1c"/>
<path d="M23.05,265.6A90.6,90.6 0 0 0 54.04,260.14L64.37,288.51A120.8,120.8 0 0 1 23.05,295.8Z" fill="#ffd54f"/>
<path d="M54.04,260.14A90.6,90.6 0 0 0 81.29,244.4L100.7,267.54A120.8,120.8 0 0 1 64.37,288.51Z" fill="#b71c1c"/>
<path d="M81.29,244.4A90.6,90.6 0 0 0 101.51,220.3L127.67,235.4A120.8,120.8 0 0 1 100.7,267.54Z" fill="#b71c1c"/>
<path d="M101.51,220.3A90.6,90.6 0 0 0 112.27,190.73L142.01,195.98A120.8,120.8 0 0 1 127.67,235.4Z" fill="#b71c1c"/>
<path d="M112.27,190.73A90.6,90.6 0 0 0 113.65,175L143.85,175A120.8,120.8 0 0 1 142.01,195.98Z" fill="#b71c1c"/>
<path clip-path="url(#snb0)" d="M23.65,175l-120.8,120.8M28.7,175l-120.8,120.8M33.75,175l-120.8,120.8M38.8,175l-120.8,120.8M43.85,175l-120.8,120.8M48.9,175l-120.8,120.8M53.95,175l-120.8,120.8M59,175l-120.8,120.8M64.05,175l-120.8,120.8M69.1,175l-120.8,120.8M74.15,175l-120.8,120.8M79.2,175l-120.8,120.8M84.25,175l-120.8,120.8M89.3,175l-120.8,120.8M94.35,175l-120.8,120.8M99.4,175l-120.8,120.8M104.45,175l-120.8,120.8M109.5,175l-120.8,120.8M114.55,175l-120.8,120.8M119.6,175l-120.8,120.8M124.65,175l-120.8,120.8M129.7,175l-120.8,120.8M134.75,175l-120.8,120.8M139.8,175l-120.8,120.8M144.85,175l-120.8,120.8M149.9,175l-120.8,120.8M154.95,175l-120.8,120.8M160,175l-120.8,120.8M165.05,175l-120.8,120.8M170.1,175l-120.8,120.8M175.15,175l-120.8,120.8M180.2,175l-120.8,120.8M185.25,175l-120.8,120.8M190.3,175l-120.8,120.8M195.35,175l-120.8,120.8M200.4,175l-120.8,120.8M205.45,175l-120.8,120.8M210.5,175l-120.8,120.8M215.55,175l-120.8,120.8M220.6,175l-120.8,120.8M225.65,175l-120.8,120.8M230.7,175l-120.8,120.8M235.75,175l-120.8,120.8M240.8,175l-120.8,120.8M245.85,175l-120.8,120.8M250.9,175l-120.8,120.8M255.95,175l-120.8,120.8M261,175l-120.8,120.8M266.05,175l-120.8,120.8" class="h"/>
<path clip-path="url(#cnb0)" d="M-95.85,175l120.8,120.8M-90.8,175l120.8,120.8M-85.75,175l120.8,120.8M-80.7,175l120.8,120.8M-75.65,175l120.8,120.8M-70.6,175l120.8,120.8M-65.55,175l120.8,120.8M-60.5,175l120.8,120.8M-55.45,175l120.8,120.8M-50.4,175l120.8,120.8M-45.35,175l120.8,120.8M-40.3,175l120.8,120.8M-35.25,175l120.8,120.8M-30.2,175l120.8,120.8M-25.15,175l120.8,120.8M-20.1,175l120.8,120.8M-15.05,175l120.8,120.8M-10,175l120.8,120.8M-4.95,175l120.8,120.8M0.1,175l120.8,120.8M5.15,175l120.8,120.8M10.2,175l120.8,120.8M15.25,175l120.8,120.8M20.3,175l120.8,120.8M25.35,175l120.8,120.8M30.4,175l120.8,120.8M35.45,175l120.8,120.8M40.5,175l120.8,120.8M45.55,175l120.8,120.8M50.6,175l120.8,120.8M55.65,175l120.8,120.8M60.7,175l120.8,120.8M65.75,175l120.8,120.8M70.8,175l120.8,120.8M75.85,175l120.8,120.8M80.9,175l120.8,120.8M85.95,175l120.8,120.8M91,175l120.8,120.8M96.05,175l120.8,120.8M101.1,175l120.8,120.8M106.15,175l120.8,120.8M111.2,175l120.8,120.8M116.25,175l120.8,120.8M121.3,175l120.8,120.8M126.35,175l120.8,120.8M131.4,175l120.8,120.8M136.45,175l120.8,120.8M141.5,175l120.8,120.8M146.55,175l120.8,120.8" class="h"/>
<path d="M23.05,175L23.05,295.8M23.05,175L64.37,288.51M23.05,175L100.7,267.54M23.05,175L127.67,235.4M23.05,175L142.01,195.98M23.05,175L143.85,175M23.05,205.2A30.2,30.2 0 0 0 53.25,175M23.05,235.4A60.4,60.4 0 0 0 83.45,175M23.05,265.6A90.6,90.6 0 0 0 113.65,175M23.05,295.8A120.8,120.8 0 0 0 143.85,175" class="o"/>
<path d="M168.32,157.7L178.65,129.32A30.2,30.2 0 0 0 168.32,127.5Z" fill="#b71c1c"/>
<path d="M168.32,157.7L187.73,134.57A30.2,30.2 0 0 0 178.65,129.32Z" fill="#b71c1c"/>
<path d="M168.32,157.7L194.47,142.6A30.2,30.2 0 0 0 187.73,134.57Z" fill="#b71c1c"/>
<path d="M168.32,157.7L198.06,152.46A30.2,30.2 0 0 0 194.47,142.6Z" fill="#2e7d32"/>
<path d="M168.32,157.7L198.52,157.7A30.2,30.2 0 0 0 198.06,152.46Z" fill="#ffd54f"/>
<path d="M168.32,127.5A30.2,30.2 0 0 1 178.65,129.32L188.98,100.94A60.4,60.4 0 0 0 168.32,97.3Z" fill="#b71c1c"/>
<path d="M178.65,129.32A30.2,30.2 0 0 1 187.73,134.57L207.14,111.43A60.4,60.4 0 0 0 188.98,100.94Z" fill="#b71c1c"/>
<path d="M187.73,134.57A30.2,30.2 0 0 1 194.47,142.6L220.63,127.5A60.4,60.4 0 0 0 207.14,111.43Z" fill="#b71c1c"/>
<path d="M194.47,142.6A30.2,30.2 0 0 1 198.06,152.46L227.8,147.21A60.4,60.4 0 0 0 220.63,127.5Z" fill="#b71c1c"/>
<path d="M198.06,152.46A30.2,30.2 0 0 1 198.52,157.7L228.72,157.7A60.4,60.4 0 0 0 227.8,147.21Z" fill="#b71c1c"/>
<path d="M168.32,97.3A60.4,60.4 0 0 1 188.98,100.94L199.31,72.56A90.6,90.6 0 0 0 168.32,67.1Z" fill="#b71c1c"/>
<path d="M188.98,100.94A60.4,60.4 0 0 1 207.14,111.43L226.56,88.3A90.6,90.6 0 0 0 199.31,72.56Z" fill="#b71c1c"/>
<path d="M207.14,111.43A60.4,60.4 0 0 1 220.63,127.5L246.78,112.4A90.6,90.6 0 0 0 226.56,88.3Z" fill="#b71c1c"/>
<path d="M220.63,127.5A60.4,60.4 0 0 1 227.8,147.21L257.54,141.97A90.6,90.6 0 0 0 246.78,112.4Z" fill="#ffd54f"/>
<path d="M227.8,147.21A60.4,60.4 0 0 1 228.72,157.7L258.92,157.7A90.6,90.6 0 0 0 257.54,141.97Z" fill="#ffd54f"/>
<path d="M168.32,67.1A90.6,90.6 0 0 1 199.31,72.56L209.64,44.19A120.8,120.8 0 0 0 168.32,36.9Z" fill="#b71c1c"/>
<path d="M199.31,72.56A90.6,90.6 0 0 1 226.56,88.3L245.97,65.16A120.8,120.8 0 0 0 209.64,44.19Z" fill="#b71c1c"/>
<path d="M226.56,88.3A90.6,90.6 0 0 1 246.78,112.4L272.94,97.3A120.8,120.8 0 0 0 245.97,65.16Z" fill="#b71c1c"/>
<path d="M246.78,112.4A90.6,90.6 0 0 1 257.54,141.97L287.28,136.72A120.8,120.8 0 0 0 272.94,97.3Z" fill="#b71c1c"/>
<path d="M257.54,141.97A90.6,90.6 0 0 1 258.92,157.7L289.12,157.7A120.8,120.8 0 0 0 287.28,136.72Z" fill="#ffd54f"/>
<path clip-path="url(#snt1)" d="M168.92,36.9l-120.8,120.8M173.97,36.9l-120.8,120.8M179.02,36.9l-120.8,120.8M184.07,36.9l-120.8,120.8M189.12,36.9l-120.8,120.8M194.17,36.9l-120.8,120.8M199.22,36.9l-120.8,120.8M204.27,36.9l-120.8,120.8M209.32,36.9l-120.8,120.8M214.37,36.9l-120.8,120.8M219.42,36.9l-120.8,120.8M224.47,36.9l-120.8,120.8M229.52,36.9l-120.8,120.8M234.57,36.9l-120.8,120.8M239.62,36.9l-120.8,120.8M244.67,36.9l-120.8,120.8M249.72,36.9l-120.8,120.8M254.77,36.9l-120.8,120.8M259.82,36.9l-120.8,120.8M264.87,36.9l-120.8,120.8M269.92,36.9l-120.8,120.8M274.97,36.9l-120.8,120.8M280.02,36.9l-120.8,120.8M285.07,36.9l-120.8,120.8M290.12,36.9l-120.8,120.8M295.17,36.9l-120.8,120.8M300.22,36.9l-120.8,120.8M305.27,36.9l-120.8,120.8M310.32,36.9l-120.8,120.8M315.37,36.9l-120.8,120.8M320.42,36.9l-120.8,120.8M325.47,36.9l-120.8,120.8M330.52,36.9l-120.8,120.8M335.57,36.9l-120.8,120.8M340.62,36.9l-120.8,120.8M345.67,36.9l-120.8,120.8M350.72,36.9l-120.8,120.8M355.77,36.9l-120.8,120.8M360.82,36.9l-120.8,120.8M365.87,36.9l-120.8,120.8M370.92,36.9l-120.8,120.8M375.97,36.9l-120.8,120.8M381.02,36.9l-120.8,120.8M386.07,36.9l-120.8,120.8M391.12,36.9l-120.8,120.8M396.17,36.9l-120.8,120.8M401.22,36.9l-120.8,120.8M406.27,36.9l-120.8,120.8M411.32,36.9l-120.8,120.8" class="h"/>
<path clip-path="url(#cnt1)" d="M49.42,36.9l120.8,120.8M54.47,36.9l120.8,120.8M59.52,36.9l120.8,120.8M64.57,36.9l120.8,120.8M69.62,36.9l120.8,120.8M74.67,36.9l120.8,120.8M79.72,36.9l120.8,120.8M84.77,36.9l120.8,120.8M89.82,36.9l120.8,120.8M94.87,36.9l120.8,120.8M99.92,36.9l120.8,120.8M104.97,36.9l120.8,120.8M110.02,36.9l120.8,120.8M115.07,36.9l120.8,120.8M120.12,36.9l120.8,120.8M125.17,36.9l120.8,120.8M130.22,36.9l120.8,120.8M135.27,36.9l120.8,120.8M140.32,36.9l120.8,120.8M145.37,36.9l120.8,120.8M150.42,36.9l120.8,120.8M155.47,36.9l120.8,120.8M160.52,36.9l120.8,120.8M165.57,36.9l120.8,120.8M170.62,36.9l120.8,120.8M175.67,36.9l120.8,120.8M180.72,36.9l120.8,120.8M185.77,36.9l120.8,120.8M190.82,36.9l120.8,120.8M195.87,36.9l120.8,120.8M200.92,36.9l120.8,120.8M205.97,36.9l120.8,120.8M211.02,36.9l120.8,120.8M216.07,36.9l120.8,120.8M221.12,36.9l120.8,120.8M226.17,36.9l120.8,120.8M231.22,36.9l120.8,120.8M236.27,36.9l120.8,120.8M241.32,36.9l120.8,120.8M246.37,36.9l120.8,120.8M251.42,36.9l120.8,120.8M256.47,36.9l120.8,120.8M261.52,36.9l120.8,120.8M266.57,36.9l120.8,120.8M271.62,36.9l120.8,120.8M276.67,36.9l120.8,120.8M281.72,36.9l120.8,120.8M286.77,36.9l120.8,120.8M291.82,36.9l120.8,120.8" class="h"/>
<path d="M168.32,157.7L168.32,36.9M168.32,157.7L209.64,44.19M168.32,157.7L245.97,65.16M168.32,157.7L272.94,97.3M168.32,157.7L287.28,136.72M168.32,157.7L289.12,157.7M168.32,127.5A30.2,30.2 0 0 1 198.52,157.7M168.32,97.3A60.4,60.4 0 0 1 228.72,157.7M168.32,67.1A90.6,90.6 0 0 1 258.92,157.7M168.32,36.9A120.8,120.8 0 0 1 289.12,157.7" class="o"/>
<path d="M168.32,175L178.65,203.38A30.2,30.2 0 0 1 168.32,205.2Z" fill="#b71c1c"/>
<path d="M168.32,175L187.73,198.13A30.2,30.2 0 0 1 178.65,203.38Z" fill="#b71c1c"/>
<path d="M168.32,175L194.47,190.1A30.2,30.2 0 0 1 187.73,198.13Z" fill="#b71c1c"/>
<path d="M168.32,175L198.06,180.24A30.2,30.2 0 0 1 194.47,190.1Z" fill="#b71c1c"/>
<path d="M168.32,175L198.52,175A30.2,30.2 0 0 1 198.06,180.24Z" fill="#b71c1c"/>
<path d="M168.32,205.2A30.2,30.2 0 0 0 178.65,203.38L188.98,231.76A60.4,60.4 0 0 1 168.32,235.4Z" fill="#b71c1c"/>
<path d="M178.65,203.38A30.2,30.2 0 0 0 187.73,198.13L207.14,221.27A60.4,60.4 0 0 1 188.98,231.76Z" fill="#b71c1c"/>
<path d="M187.73,198.13A30.2,30.2 0 0 0 194.47,190.1L220.63,205.2A60.4,60.4 0 0 1 207.14,221.27Z" fill="#b71c1c"/>
<path d="M194.47,190.1A30.2,30.2 0 0 0 198.06,180.24L227.8,185.49A60.4,60.4 0 0 1 220.63,205.2Z" fill="#b71c1c"/>
<path d="M198.06,180.24A30.2,30.2 0 0 0 198.52,175L228.72,175A60.4,60.4 0 0 1 227.8,185.49Z" fill="#b71c1c"/>
<path d="M168.32,235.4A60.4,60.4 0 0 0 188.98,231.76L199.31,260.14A90.6,90.6 0 0 1 168.32,265.6Z" fill="#b71c1c"/>
<path d="M188.98,231.76A60.4,60.4 0 0 0 207.14,221.27L226.56,244.4A90.6,90.6 0 0 1 199.31,260.14Z" fill="#b71c1c"/>
<path d="M207.14,221.27A60.4,60.4 0 0 0 220.63,205.2L246.78,220.3A90.6,90.6 0 0 1 226.56,244.4Z" fill="#b71c1c"/>
<path d="M220.63,205.2A60.4,60.4 0 0 0 227.8,185.49L257.54,190.73A90.6,90.6 0 0 1 246.78,220.3Z" fill="#b71c1c"/>
<path d="M227.8,185.49A60.4,60.4 0 0 0 228.72,175L258.92,175A90.6,90.6 0 0 1 257.54,190.73Z" fill="#b71c1c"/>
<path d="M168.32,265.6A90.6,90.6 0 0 0 199.31,260.14L209.64,288.51A120.8,120.8 0 0 1 168.32,295.8Z" fill="#b71c1c"/>
<path d="M199.31,260.14A90.6,90.6 0 0 0 226.56,244.4L245.97,267.54A120.8,120.8 0 0 1 209.64,288.51Z" fill="#b71c1c"/>
<path d="M226.56,244.4A90.6,90.6 0 0 0 246.78,220.3L272.94,235.4A120.8,120.8 0 0 1 245.97,267.54Z" fill="#b71c1c"/>
<path d="M246.78,220.3A90.6,90.6 0 0 0 257.54,190.73L287.28,195.98A120.8,120.8 0 0 1 272.94,235.4Z" fill="#b71c1c"/>
<path d="M257.54,190.73A90.6,90.6 0 0 0 258.92,175L289.12,175A120.8,120.8 0 0 1 287.28,195.98Z" fill="#b71c1c"/>
<path clip-path="url(#snb1)" d="M168.92,175l-120.8,120.8M173.97,175l-120.8,120.8M179.02,175l-120.8,120.8M184.07,175l-120.8,120.8M189.12,175l-120.8,120.8M194.17,175l-120.8,120.8M199.22,175l-120.8,120.8M204.27,175l-120.8,120.8M209.32,175l-120.8,120.8M214.37,175l-120.8,120.8M219.42,175l-120.8,120.8M224.47,175l-120.8,120.8M229.52,175l-120.8,120.8M234.57,175l-120.8,120.8M239.62,175l-120.8,120.8M244.67,175l-120.8,120.8M249.72,175l-120.8,120.8M254.77,175l-120.8,120.8M259.82,175l-120.8,120.8M264.87,175l-120.8,120.8M269.92,175l-120.8,120.8M274.97,175l-120.8,120.8M280.02,175l-120.8,120.8M285.07,175l-120.8,120.8M290.12,175l-120.8,120.8M295.17,175l-120.8,120.8M300.22,175l-120.8,120.8M305.27,175l-120.8,120.8M310.32,175l-120.8,120.8M315.37,175l-120.8,120.8M320.42,175l-120.8,120.8M325.47,175l-120.8,120.8M330.52,175l-120.8,120.8M335.57,175l-120.8,120.8M340.62,175l-120.8,120.8M345.67,175l-120.8,120.8M350.72,175l-120.8,120.8M355.77,175l-120.8,120.8M360.82,175l-120.8,120.8M365.87,175l-120.8,120.8M370.92,175l-120.8,120.8M375.97,175l-120.8,120.8M381.02,175l-120.8,120.8M386.07,175l-120.8,120.8M391.12,175l-120.8,120.8M396.17,175l-120.8,120.8M401.22,175l-120.8,120.8M406.27,175l-120.8,120.8M411.32,175l-120.8,120.8" class="h"/>
<path clip-path="url(#cnb1)" d="M49.42,175l120.8,120.8M54.47,175l120.8,120.8M59.52,175l120.8,120.8M64.57,175l120.8,120.8M69.62,175l120.8,120.8M74.67,175l120.8,120.8M79.72,175l120.8,120.8M84.77,175l120.8,120.8M89.82,175l120.8,120.8M94.87,175l120.8,120.8M99.92,175l120.8,120.8M104.97,175l120.8,120.8M110.02,175l120.8,120.8M115.07,175l120.8,120.8M120.12,175l120.8,120.8M125.17,175l120.8,120.8M130.22,175l120.8,120.8M135.27,175l120.8,120.8M140.32,175l120.8,120.8M145.37,175l120.8,120.8M150.42,175l120.8,120.8M155.47,175l120.8,120.8M160.52,175l120.8,120.8M165.57,175l120.8,120.8M170.62,175l120.8,120.8M175.67,175l120.8,120.8M180.72,175l120.8,120.8M185.77,175l120.8,120.8M190.82,175l120.8,120.8M195.87,175l120.8,120.8M200.92,175l120.8,120.8M205.97,175l120.8,120.8M211.02,175l120.8,120.8M216.07,175l120.8,120.8M221.12,175l120.8,120.8M226.17,175l120.8,120.8M231.22,175l120.8,120.8M236.27,175l120.8,120.8M241.32,175l120.8,120.8M246.37,175l120.8,120.8M251.42,175l120.8,120.8M256.47,175l120.8,120.8M261.52,175l120.8,120.8M266.57,175l120.8,120.8M271.62,175l120.8,120.8M276.67,175l120.8,120.8M281.72,175l120.8,120.8M286.77,175l120.8,120.8M291.82,175l120.8,120.8" class="h"/>
<path d="M168.32,175L168.32,295.8M168.32,175L209.64,288.51M168.32,175L245.97,267.54M168.32,175L272.94,235.4M168.32,175L287.28,195.98M168.32,175L289.12,175M168.32,205.2A30.2,30.2 0 0 0 198.52,175M168.32,235.4A60.4,60.4 0 0 0 228.72,175M168.32,265.6A90.6,90.6 0 0 0 258.92,175M168.32,295.8A120.8,120.8 0 0 0 289.12,175" class="o"/>
<path d="M313.59,157.7L323.92,129.32A30.2,30.2 0 0 0 313.59,127.5Z" fill="#b71c1c"/>
<path d="M313.59,157.7L333,134.57A30.2,30.2 0 0 0 323.92,129.32Z" fill="#b71c1c"/>
<path d="M313.59,157.7L339.74,142.6A30.2,30.2 0 0 0 333,134.57Z" fill="#b71c1c"/>
<path d="M313.59,157.7L343.33,152.46A30.2,30.2 0 0 0 339.74,142.6Z" fill="#2e7d32"/>
<path d="M313.59,157.7L343.79,157.7A30.2,30.2 0 0 0 343.33,152.46Z" fill="#b71c1c"/>
<path d="M313.59,127.5A30.2,30.2 0 0 1 323.92,129.32L334.25,100.94A60.4,60.4 0 0 0 313.59,97.3Z" fill="#b71c1c"/>
<path d="M323.92,129.32A30.2,30.2 0 0 1 333,134.57L352.41,111.43A60.4,60.4 0 0 0 334.25,100.94Z" fill="#ffd54f"/>
<path d="M333,134.57A30.2,30.2 0 0 1 339.74,142.6L365.9,127.5A60.4,60.4 0 0 0 352.41,111.43Z" fill="#2e7d32"/>
<path d="M339.74,142.6A30.2,30.2 0 0 1 343.33,152.46L373.07,147.21A60.4,60.4 0 0 0 365.9,127.5Z" fill="#ffd54f"/>
<path d="M343.33,152.46A30.2,30.2 0 0 1 343.79,157.7L373.99,157.7A60.4,60.4 0 0 0 373.07,147.21Z" fill="#ffd54f"/>
<path d="M313.59,97.3A60.4,60.4 0 0 1 334.25,100.94L344.58,72.56A90.6,90.6 0 0 0 313.59,67.1Z" fill="#b71c1c"/>
<path d="M334.25,100.94A60.4,60.4 0 0 1 352.41,111.43L371.83,88.3A90.6,90.6 0 0 0 344.58,72.56Z" fill="#b71c1c"/>
<path d="M352.41,111.43A60.4,60.4 0 0 1 365.9,127.5L392.05,112.4A90.6,90.6 0 0 0 371.83,88.3Z" fill="#ffd54f"/>
<path d="M365.9,127.5A60.4,60.4 0 0 1 373.07,147.21L402.81,141.97A90.6,90.6 0 0 0 392.05,112.4Z" fill="#ffd54f"/>
<path d="M373.07,147.21A60.4,60.4 0 0 1 373.99,157.7L404.19,157.7A90.6,90.6 0 0 0 402.81,141.97Z" fill="#ffd54f"/>
<path d="M313.59,67.1A90.6,90.6 0 0 1 344.58,72.56L354.91,44.19A120.8,120.8 0 0 0 313.59,36.9Z" fill="#b71c1c"/>
<path d="M344.58,72.56A90.6,90.6 0 0 1 371.83,88.3L391.24,65.16A120.8,120.8 0 0 0 354.91,44.19Z" fill="#b71c1c"/>
<path d="M371.83,88.3A90.6,90.6 0 0 1 392.05,112.4L418.21,97.3A120.8,120.8 0 0 0 391.24,65.16Z" fill="#b71c1c"/>
<path d="M392.05,112.4A90.6,90.6 0 0 1 402.81,141.97L432.55,136.72A120.8,120.8 0 0 0 418.21,97.3Z" fill="#b71c1c"/>
<path d="M402.81,141.97A90.6,90.6 0 0 1 404.19,157.7L434.39,157.7A120.8,120.8 0 0 0 432.55,136.72Z" fill="#ffd54f"/>
<path clip-path="url(#snt2)" d="M314.19,36.9l-120.8,120.8M319.24,36.9l-120.8,120.8M324.29,36.9l-120.8,120.8M329.34,36.9l-120.8,120.8M334.39,36.9l-120.8,120.8M339.44,36.9l-120.8,120.8M344.49,36.9l-120.8,120.8M349.54,36.9l-120.8,120.8M354.59,36.9l-120.8,120.8M359.64,36.9l-120.8,120.8M364.69,36.9l-120.8,120.8M369.74,36.9l-120.8,120.8M374.79,36.9l-120.8,120.8M379.84,36.9l-120.8,120.8M384.89,36.9l-120.8,120.8M389.94,36.9l-120.8,120.8M394.99,36.9l-120.8,120.8M400.04,36.9l-120.8,120.8M405.09,36.9l-120.8,120.8M410.14,36.9l-120.8,120.8M415.19,36.9l-120.8,120.8M420.24,36.9l-120.8,120.8M425.29,36.9l-120.8,120.8M430.34,36.9l-120.8,120.8M435.39,36.9l-120.8,120.8M440.44,36.9l-120.8,120.8M445.49,36.9l-120.8,120.8M450.54,36.9l-120.8,120.8M455.59,36.9l-120.8,120.8M460.64,36.9l-120.8,120.8M465.69,36.9l-120.8,120.8M470.74,36.9l-120.8,120.8M475.79,36.9l-120.8,120.8M480.84,36.9l-120.8,120.8M485.89,36.9l-120.8,120.8M490.94,36.9l-120.8,120.8M495.99,36.9l-120.8,120.8M501.04,36.9l-120.8,120.8M506.09,36.9l-120.8,120.8M511.14,36.9l-120.8,120.8M516.19,36.9l-120.8,120.8M521.24,36.9l-120.8,120.8M526.29,36.9l-120.8,120.8M531.34,36.9l-120.8,120.8M536.39,36.9l-120.8,120.8M541.44,36.9l-120.8,120.8M546.49,36.9l-120.8,120.8M551.54,36.9l-120.8,120.8M556.59,36.9l-120.8,120.8" class="h"/>
<path clip-path="url(#cnt2)" d="M194.69,36.9l120.8,120.8M199.74,36.9l120.8,120.8M204.79,36.9l120.8,120.8M209.84,36.9l120.8,120.8M214.89,36.9l120.8,120.8M219.94,36.9l120.8,120.8M224.99,36.9l120.8,120.8M230.04,36.9l120.8,120.8M235.09,36.9l120.8,120.8M240.14,36.9l120.8,120.8M245.19,36.9l120.8,120.8M250.24,36.9l120.8,120.8M255.29,36.9l120.8,120.8M260.34,36.9l120.8,120.8M265.39,36.9l120.8,120.8M270.44,36.9l120.8,120.8M275.49,36.9l120.8,120.8M280.54,36.9l120.8,120.8M285.59,36.9l120.8,120.8M290.64,36.9l120.8,120.8M295.69,36.9l120.8,120.8M300.74,36.9l120.8,120.8M305.79,36.9l120.8,120.8M310.84,36.9l120.8,120.8M315.89,36.9l120.8,120.8M320.94,36.9l120.8,120.8M325.99,36.9l120.8,120.8M331.04,36.9l120.8,120.8M336.09,36.9l120.8,120.8M341.14,36.9l120.8,120.8M346.19,36.9l120.8,120.8M351.24,36.9l120.8,120.8M356.29,36.9l120.8,120.8M361.34,36.9l120.8,120.8M366.39,36.9l120.8,120.8M371.44,36.9l120.8,120.8M376.49,36.9l120.8,120.8M381.54,36.9l120.8,120.8M386.59,36.9l120.8,120.8M391.64,36.9l120.8,120.8M396.69,36.9l120.8,120.8M401.74,36.9l120.8,120.8M406.79,36.9l120.8,120.8M411.84,36.9l120.8,120.8M416.89,36.9l120.8,120.8M421.94,36.9l120.8,120.8M426.99,36.9l120.8,120.8M432.04,36.9l120.8,120.8M437.09,36.9l120.8,120.8" class="h"/>
<path clip-path="url(#sgt2)" d="M314.19,36.9l-120.8,120.8M319.24,36.9l-120.8,120.8M324.29,36.9l-120.8,120.8M329.34,36.9l-120.8,120.8M334.39,36.9l-120.8,120.8M339.44,36.9l-120.8,120.8M344.49,36.9l-120.8,120.8M349.54,36.9l-120.8,120.8M354.59,36.9l-120.8,120.8M359.64,36.9l-120.8,120.8M364.69,36.9l-120.8,120.8M369.74,36.9l-120.8,120.8M374.79,36.9l-120.8,120.8M379.84,36.9l-120.8,120.8M384.89,36.9l-120.8,120.8M389.94,36.9l-120.8,120.8M394.99,36.9l-120.8,120.8M400.04,36.9l-120.8,120.8M405.09,36.9l-120.8,120.8M410.14,36.9l-120.8,120.8M415.19,36.9l-120.8,120.8M420.24,36.9l-120.8,120.8M425.29,36.9l-120.8,120.8M430.34,36.9l-120.8,120.8M435.39,36.9l-120.8,120.8M440.44,36.9l-120.8,120.8M445.49,36.9l-120.8,120.8M450.54,36.9l-120.8,120.8M455.59,36.9l-120.8,120.8M460.64,36.9l-120.8,120.8M465.69,36.9l-120.8,120.8M470.74,36.9l-120.8,120.8M475.79,36.9l-120.8,120.8M480.84,36.9l-120.8,120.8M485.89,36.9l-120.8,120.8M490.94,36.9l-120.8,120.8M495.99,36.9l-120.8,120.8M501.04,36.9l-120.8,120.8M506.09,36.9l-120.8,120.8M511.14,36.9l-120.8,120.8M516.19,36.9l-120.8,120.8M521.24,36.9l-120.8,120.8M526.29,36.9l-120.8,120.8M531.34,36.9l-120.8,120.8M536.39,36.9l-120.8,120.8M541.44,36.9l-120.8,120.8M546.49,36.9l-120.8,120.8M551.54,36.9l-120.8,120.8M556.59,36.9l-120.8,120.8" class="h hg"/>
<path d="M313.59,157.7L313.59,36.9M313.59,157.7L354.91,44.19M313.59,157.7L391.24,65.16M313.59,157.7L418.21,97.3M313.59,157.7L432.55,136.72M313.59,157.7L434.39,157.7M313.59,127.5A30.2,30.2 0 0 1 343.79,157.7M313.59,97.3A60.4,60.4 0 0 1 373.99,157.7M313.59,67.1A90.6,90.6 0 0 1 404.19,157.7M313.59,36.9A120.8,120.8 0 0 1 434.39,157.7" class="o"/>
<path d="M313.59,175L323.92,203.38A30.2,30.2 0 0 1 313.59,205.2Z" fill="#b71c1c"/>
<path d="M313.59,175L333,198.13A30.2,30.2 0 0 1 323.92,203.38Z" fill="#b71c1c"/>
<path d="M313.59,175L339.74,190.1A30.2,30.2 0 0 1 333,198.13Z" fill="#b71c1c"/>
<path d="M313.59,175L343.33,180.24A30.2,30.2 0 0 1 339.74,190.1Z" fill="#b71c1c"/>
<path d="M313.59,175L343.79,175A30.2,30.2 0 0 1 343.33,180.24Z" fill="#b71c1c"/>
<path d="M313.59,205.2A30.2,30.2 0 0 0 323.92,203.38L334.25,231.76A60.4,60.4 0 0 1 313.59,235.4Z" fill="#b71c1c"/>
<path d="M323.92,203.38A30.2,30.2 0 0 0 333,198.13L352.41,221.27A60.4,60.4 0 0 1 334.25,231.76Z" fill="#b71c1c"/>
<path d="M333,198.13A30.2,30.2 0 0 0 339.74,190.1L365.9,205.2A60.4,60.4 0 0 1 352.41,221.27Z" fill="#ffd54f"/>
<path d="M339.74,190.1A30.2,30.2 0 0 0 343.33,180.24L373.07,185.49A60.4,60.4 0 0 1 365.9,205.2Z" fill="#b71c1c"/>
<path d="M343.33,180.24A30.2,30.2 0 0 0 343.79,175L373.99,175A60.4,60.4 0 0 1 373.07,185.49Z" fill="#b71c1c"/>
<path d="M313.59,235.4A60.4,60.4 0 0 0 334.25,231.76L344.58,260.14A90.6,90.6 0 0 1 313.59,265.6Z" fill="#b71c1c"/>
<path d="M334.25,231.76A60.4,60.4 0 0 0 352.41,221.27L371.83,244.4A90.6,90.6 0 0 1 344.58,260.14Z" fill="#b71c1c"/>
<path d="M352.41,221.27A60.4,60.4 0 0 0 365.9,205.2L392.05,220.3A90.6,90.6 0 0 1 371.83,244.4Z" fill="#b71c1c"/>
<path d="M365.9,205.2A60.4,60.4 0 0 0 373.07,185.49L402.81,190.73A90.6,90.6 0 0 1 392.05,220.3Z" fill="#b71c1c"/>
<path d="M373.07,185.49A60.4,60.4 0 0 0 373.99,175L404.19,175A90.6,90.6 0 0 1 402.81,190.73Z" fill="#b71c1c"/>
<path d="M313.59,265.6A90.6,90.6 0 0 0 344.58,260.14L354.91,288.51A120.8,120.8 0 0 1 313.59,295.8Z" fill="#b71c1c"/>
<path d="M344.58,260.14A90.6,90.6 0 0 0 371.83,244.4L391.24,267.54A120.8,120.8 0 0 1 354.91,288.51Z" fill="#b71c1c"/>
<path d="M371.83,244.4A90.6,90.6 0 0 0 392.05,220.3L418.21,235.4A120.8,120.8 0 0 1 391.24,267.54Z" fill="#b71c1c"/>
<path d="M392.05,220.3A90.6,90.6 0 0 0 402.81,190.73L432.55,195.98A120.8,120.8 0 0 1 418.21,235.4Z" fill="#b71c1c"/>
<path d="M402.81,190.73A90.6,90.6 0 0 0 404.19,175L434.39,175A120.8,120.8 0 0 1 432.55,195.98Z" fill="#b71c1c"/>
<path clip-path="url(#snb2)" d="M314.19,175l-120.8,120.8M319.24,175l-120.8,120.8M324.29,175l-120.8,120.8M329.34,175l-120.8,120.8M334.39,175l-120.8,120.8M339.44,175l-120.8,120.8M344.49,175l-120.8,120.8M349.54,175l-120.8,120.8M354.59,175l-120.8,120.8M359.64,175l-120.8,120.8M364.69,175l-120.8,120.8M369.74,175l-120.8,120.8M374.79,175l-120.8,120.8M379.84,175l-120.8,120.8M384.89,175l-120.8,120.8M389.94,175l-120.8,120.8M394.99,175l-120.8,120.8M400.04,175l-120.8,120.8M405.09,175l-120.8,120.8M410.14,175l-120.8,120.8M415.19,175l-120.8,120.8M420.24,175l-120.8,120.8M425.29,175l-120.8,120.8M430.34,175l-120.8,120.8M435.39,175l-120.8,120.8M440.44,175l-120.8,120.8M445.49,175l-120.8,120.8M450.54,175l-120.8,120.8M455.59,175l-120.8,120.8M460.64,175l-120.8,120.8M465.69,175l-120.8,120.8M470.74,175l-120.8,120.8M475.79,175l-120.8,120.8M480.84,175l-120.8,120.8M485.89,175l-120.8,120.8M490.94,175l-120.8,120.8M495.99,175l-120.8,120.8M501.04,175l-120.8,120.8M506.09,175l-120.8,120.8M511.14,175l-120.8,120.8M516.19,175l-120.8,120.8M521.24,175l-120.8,120.8M526.29,175l-120.8,120.8M531.34,175l-120.8,120.8M536.39,175l-120.8,120.8M541.44,175l-120.8,120.8M546.49,175l-120.8,120.8M551.54,175l-120.8,120.8M556.59,175l-120.8,120.8" class="h"/>
<path clip-path="url(#cnb2)" d="M194.69,175l120.8,120.8M199.74,175l120.8,120.8M204.79,175l120.8,120.8M209.84,175l120.8,120.8M214.89,175l120.8,120.8M219.94,175l120.8,120.8M224.99,175l120.8,120.8M230.04,175l120.8,120.8M235.09,175l120.8,120.8M240.14,175l120.8,120.8M245.19,175l120.8,120.8M250.24,175l120.8,120.8M255.29,175l120.8,120.8M260.34,175l120.8,120.8M265.39,175l120.8,120.8M270.44,175l120.8,120.8M275.49,175l120.8,120.8M280.54,175l120.8,120.8M285.59,175l120.8,120.8M290.64,175l120.8,120.8M295.69,175l120.8,120.8M300.74,175l120.8,120.8M305.79,175l120.8,120.8M310.84,175l120.8,120.8M315.89,175l120.8,120.8M320.94,175l120.8,120.8M325.99,175l120.8,120.8M331.04,175l120.8,120.8M336.09,175l120.8,120.8M341.14,175l120.8,120.8M346.19,175l120.8,120.8M351.24,175l120.8,120.8M356.29,175l120.8,120.8M361.34,175l120.8,120.8M366.39,175l120.8,120.8M371.44,175l120.8,120.8M376.49,175l120.8,120.8M381.54,175l120.8,120.8M386.59,175l120.8,120.8M391.64,175l120.8,120.8M396.69,175l120.8,120.8M401.74,175l120.8,120.8M406.79,175l120.8,120.8M411.84,175l120.8,120.8M416.89,175l120.8,120.8M421.94,175l120.8,120.8M426.99,175l120.8,120.8M432.04,175l120.8,120.8M437.09,175l120.8,120.8" class="h"/>
<path d="M313.59,175L313.59,295.8M313.59,175L354.91,288.51M313.59,175L391.24,267.54M313.59,175L418.21,235.4M313.59,175L432.55,195.98M313.59,175L434.39,175M313.59,205.2A30.2,30.2 0 0 0 343.79,175M313.59,235.4A60.4,60.4 0 0 0 373.99,175M313.59,265.6A90.6,90.6 0 0 0 404.19,175M313.59,295.8A120.8,120.8 0 0 0 434.39,175" class="o"/>
<path d="M458.86,157.7L469.19,129.32A30.2,30.2 0 0 0 458.86,127.5Z" fill="#b71c1c"/>
<path d="M458.86,157.7L478.27,134.57A30.2,30.2 0 0 0 469.19,129.32Z" fill="#b71c1c"/>
<path d="M458.86,157.7L485.01,142.6A30.2,30.2 0 0 0 478.27,134.57Z" fill="#ffd54f"/>
<path d="M458.86,157.7L488.6,152.46A30.2,30.2 0 0 0 485.01,142.6Z" fill="#2e7d32"/>
<path d="M458.86,157.7L489.06,157.7A30.2,30.2 0 0 0 488.6,152.46Z" fill="#ffd54f"/>
<path d="M458.86,127.5A30.2,30.2 0 0 1 469.19,129.32L479.52,100.94A60.4,60.4 0 0 0 458.86,97.3Z" fill="#ffd54f"/>
<path d="M469.19,129.32A30.2,30.2 0 0 1 478.27,134.57L497.68,111.43A60.4,60.4 0 0 0 479.52,100.94Z" fill="#2e7d32"/>
<path d="M478.27,134.57A30.2,30.2 0 0 1 485.01,142.6L511.17,127.5A60.4,60.4 0 0 0 497.68,111.43Z" fill="#2e7d32"/>
<path d="M485.01,142.6A30.2,30.2 0 0 1 488.6,152.46L518.34,147.21A60.4,60.4 0 0 0 511.17,127.5Z" fill="#ffd54f"/>
<path d="M488.6,152.46A30.2,30.2 0 0 1 489.06,157.7L519.26,157.7A60.4,60.4 0 0 0 518.34,147.21Z" fill="#ffd54f"/>
<path d="M458.86,97.3A60.4,60.4 0 0 1 479.52,100.94L489.85,72.56A90.6,90.6 0 0 0 458.86,67.1Z" fill="#ffd54f"/>
<path d="M479.52,100.94A60.4,60.4 0 0 1 497.68,111.43L517.1,88.3A90.6,90.6 0 0 0 489.85,72.56Z" fill="#2e7d32"/>
<path d="M497.68,111.43A60.4,60.4 0 0 1 511.17,127.5L537.32,112.4A90.6,90.6 0 0 0 517.1,88.3Z" fill="#ffd54f"/>
<path d="M511.17,127.5A60.4,60.4 0 0 1 518.34,147.21L548.08,141.97A90.6,90.6 0 0 0 537.32,112.4Z" fill="#ffd54f"/>
<path d="M518.34,147.21A60.4,60.4 0 0 1 519.26,157.7L549.46,157.7A90.6,90.6 0 0 0 548.08,141.97Z" fill="#ffd54f"/>
<path d="M458.86,67.1A90.6,90.6 0 0 1 489.85,72.56L500.18,44.19A120.8,120.8 0 0 0 458.86,36.9Z" fill="#ffd54f"/>
<path d="M489.85,72.56A90.6,90.6 0 0 1 517.1,88.3L536.51,65.16A120.8,120.8 0 0 0 500.18,44.19Z" fill="#ffd54f"/>
<path d="M517.1,88.3A90.6,90.6 0 0 1 537.32,112.4L563.48,97.3A120.8,120.8 0 0 0 536.51,65.16Z" fill="#ffd54f"/>
<path d="M537.32,112.4A90.6,90.6 0 0 1 548.08,141.97L577.82,136.72A120.8,120.8 0 0 0 563.48,97.3Z" fill="#b71c1c"/>
<path d="M548.08,141.97A90.6,90.6 0 0 1 549.46,157.7L579.66,157.7A120.8,120.8 0 0 0 577.82,136.72Z" fill="#b71c1c"/>
<path clip-path="url(#snt3)" d="M459.46,36.9l-120.8,120.8M464.51,36.9l-120.8,120.8M469.56,36.9l-120.8,120.8M474.61,36.9l-120.8,120.8M479.66,36.9l-120.8,120.8M484.71,36.9l-120.8,120.8M489.76,36.9l-120.8,120.8M494.81,36.9l-120.8,120.8M499.86,36.9l-120.8,120.8M504.91,36.9l-120.8,120.8M509.96,36.9l-120.8,120.8M515.01,36.9l-120.8,120.8M520.06,36.9l-120.8,120.8M525.11,36.9l-120.8,120.8M530.16,36.9l-120.8,120.8M535.21,36.9l-120.8,120.8M540.26,36.9l-120.8,120.8M545.31,36.9l-120.8,120.8M550.36,36.9l-120.8,120.8M555.41,36.9l-120.8,120.8M560.46,36.9l-120.8,120.8M565.51,36.9l-120.8,120.8M570.56,36.9l-120.8,120.8M575.61,36.9l-120.8,120.8M580.66,36.9l-120.8,120.8M585.71,36.9l-120.8,120.8M590.76,36.9l-120.8,120.8M595.81,36.9l-120.8,120.8M600.86,36.9l-120.8,120.8M605.91,36.9l-120.8,120.8M610.96,36.9l-120.8,120.8M616.01,36.9l-120.8,120.8M621.06,36.9l-120.8,120.8M626.11,36.9l-120.8,120.8M631.16,36.9l-120.8,120.8M636.21,36.9l-120.8,120.8M641.26,36.9l-120.8,120.8M646.31,36.9l-120.8,120.8M651.36,36.9l-120.8,120.8M656.41,36.9l-120.8,120.8M661.46,36.9l-120.8,120.8M666.51,36.9l-120.8,120.8M671.56,36.9l-120.8,120.8M676.61,36.9l-120.8,120.8M681.66,36.9l-120.8,120.8M686.71,36.9l-120.8,120.8M691.76,36.9l-120.8,120.8M696.81,36.9l-120.8,120.8M701.86,36.9l-120.8,120.8" class="h"/>
<path clip-path="url(#cnt3)" d="M339.96,36.9l120.8,120.8M345.01,36.9l120.8,120.8M350.06,36.9l120.8,120.8M355.11,36.9l120.8,120.8M360.16,36.9l120.8,120.8M365.21,36.9l120.8,120.8M370.26,36.9l120.8,120.8M375.31,36.9l120.8,120.8M380.36,36.9l120.8,120.8M385.41,36.9l120.8,120.8M390.46,36.9l120.8,120.8M395.51,36.9l120.8,120.8M400.56,36.9l120.8,120.8M405.61,36.9l120.8,120.8M410.66,36.9l120.8,120.8M415.71,36.9l120.8,120.8M420.76,36.9l120.8,120.8M425.81,36.9l120.8,120.8M430.86,36.9l120.8,120.8M435.91,36.9l120.8,120.8M440.96,36.9l120.8,120.8M446.01,36.9l120.8,120.8M451.06,36.9l120.8,120.8M456.11,36.9l120.8,120.8M461.16,36.9l120.8,120.8M466.21,36.9l120.8,120.8M471.26,36.9l120.8,120.8M476.31,36.9l120.8,120.8M481.36,36.9l120.8,120.8M486.41,36.9l120.8,120.8M491.46,36.9l120.8,120.8M496.51,36.9l120.8,120.8M501.56,36.9l120.8,120.8M506.61,36.9l120.8,120.8M511.66,36.9l120.8,120.8M516.71,36.9l120.8,120.8M521.76,36.9l120.8,120.8M526.81,36.9l120.8,120.8M531.86,36.9l120.8,120.8M536.91,36.9l120.8,120.8M541.96,36.9l120.8,120.8M547.01,36.9l120.8,120.8M552.06,36.9l120.8,120.8M557.11,36.9l120.8,120.8M562.16,36.9l120.8,120.8M567.21,36.9l120.8,120.8M572.26,36.9l120.8,120.8M577.31,36.9l120.8,120.8M582.36,36.9l120.8,120.8" class="h"/>
<path clip-path="url(#sgt3)" d="M459.46,36.9l-120.8,120.8M464.51,36.9l-120.8,120.8M469.56,36.9l-120.8,120.8M474.61,36.9l-120.8,120.8M479.66,36.9l-120.8,120.8M484.71,36.9l-120.8,120.8M489.76,36.9l-120.8,120.8M494.81,36.9l-120.8,120.8M499.86,36.9l-120.8,120.8M504.91,36.9l-120.8,120.8M509.96,36.9l-120.8,120.8M515.01,36.9l-120.8,120.8M520.06,36.9l-120.8,120.8M525.11,36.9l-120.8,120.8M530.16,36.9l-120.8,120.8M535.21,36.9l-120.8,120.8M540.26,36.9l-120.8,120.8M545.31,36.9l-120.8,120.8M550.36,36.9l-120.8,120.8M555.41,36.9l-120.8,120.8M560.46,36.9l-120.8,120.8M565.51,36.9l-120.8,120.8M570.56,36.9l-120.8,120.8M575.61,36.9l-120.8,120.8M580.66,36.9l-120.8,120.8M585.71,36.9l-120.8,120.8M590.76,36.9l-120.8,120.8M595.81,36.9l-120.8,120.8M600.86,36.9l-120.8,120.8M605.91,36.9l-120.8,120.8M610.96,36.9l-120.8,120.8M616.01,36.9l-120.8,120.8M621.06,36.9l-120.8,120.8M626.11,36.9l-120.8,120.8M631.16,36.9l-120.8,120.8M636.21,36.9l-120.8,120.8M641.26,36.9l-120.8,120.8M646.31,36.9l-120.8,120.8M651.36,36.9l-120.8,120.8M656.41,36.9l-120.8,120.8M661.46,36.9l-120.8,120.8M666.51,36.9l-120.8,120.8M671.56,36.9l-120.8,120.8M676.61,36.9l-120.8,120.8M681.66,36.9l-120.8,120.8M686.71,36.9l-120.8,120.8M691.76,36.9l-120.8,120.8M696.81,36.9l-120.8,120.8M701.86,36.9l-120.8,120.8" class="h hg"/>
<path d="M458.86,157.7L458.86,36.9M458.86,157.7L500.18,44.19M458.86,157.7L536.51,65.16M458.86,157.7L563.48,97.3M458.86,157.7L577.82,136.72M458.86,157.7L579.66,157.7M458.86,127.5A30.2,30.2 0 0 1 489.06,157.7M458.86,97.3A60.4,60.4 0 0 1 519.26,157.7M458.86,67.1A90.6,90.6 0 0 1 549.46,157.7M458.86,36.9A120.8,120.8 0 0 1 579.66,157.7" class="o"/>
<path d="M458.86,175L469.19,203.38A30.2,30.2 0 0 1 458.86,205.2Z" fill="#b71c1c"/>
<path d="M458.86,175L478.27,198.13A30.2,30.2 0 0 1 469.19,203.38Z" fill="#b71c1c"/>
<path d="M458.86,175L485.01,190.1A30.2,30.2 0 0 1 478.27,198.13Z" fill="#ffd54f"/>
<path d="M458.86,175L488.6,180.24A30.2,30.2 0 0 1 485.01,190.1Z" fill="#b71c1c"/>
<path d="M458.86,175L489.06,175A30.2,30.2 0 0 1 488.6,180.24Z" fill="#b71c1c"/>
<path d="M458.86,205.2A30.2,30.2 0 0 0 469.19,203.38L479.52,231.76A60.4,60.4 0 0 1 458.86,235.4Z" fill="#b71c1c"/>
<path d="M469.19,203.38A30.2,30.2 0 0 0 478.27,198.13L497.68,221.27A60.4,60.4 0 0 1 479.52,231.76Z" fill="#ffd54f"/>
<path d="M478.27,198.13A30.2,30.2 0 0 0 485.01,190.1L511.17,205.2A60.4,60.4 0 0 1 497.68,221.27Z" fill="#ffd54f"/>
<path d="M485.01,190.1A30.2,30.2 0 0 0 488.6,180.24L518.34,185.49A60.4,60.4 0 0 1 511.17,205.2Z" fill="#b71c1c"/>
<path d="M488.6,180.24A30.2,30.2 0 0 0 489.06,175L519.26,175A60.4,60.4 0 0 1 518.34,185.49Z" fill="#b71c1c"/>
<path d="M458.86,235.4A60.4,60.4 0 0 0 479.52,231.76L489.85,260.14A90.6,90.6 0 0 1 458.86,265.6Z" fill="#ffd54f"/>
<path d="M479.52,231.76A60.4,60.4 0 0 0 497.68,221.27L517.1,244.4A90.6,90.6 0 0 1 489.85,260.14Z" fill="#2e7d32"/>
<path d="M497.68,221.27A60.4,60.4 0 0 0 511.17,205.2L537.32,220.3A90.6,90.6 0 0 1 517.1,244.4Z" fill="#ffd54f"/>
<path d="M511.17,205.2A60.4,60.4 0 0 0 518.34,185.49L548.08,190.73A90.6,90.6 0 0 1 537.32,220.3Z" fill="#b71c1c"/>
<path d="M518.34,185.49A60.4,60.4 0 0 0 519.26,175L549.46,175A90.6,90.6 0 0 1 548.08,190.73Z" fill="#b71c1c"/>
<path d="M458.86,265.6A90.6,90.6 0 0 0 489.85,260.14L500.18,288.51A120.8,120.8 0 0 1 458.86,295.8Z" fill="#b71c1c"/>
<path d="M489.85,260.14A90.6,90.6 0 0 0 517.1,244.4L536.51,267.54A120.8,120.8 0 0 1 500.18,288.51Z" fill="#2e7d32"/>
<path d="M517.1,244.4A90.6,90.6 0 0 0 537.32,220.3L563.48,235.4A120.8,120.8 0 0 1 536.51,267.54Z" fill="#ffd54f"/>
<path d="M537.32,220.3A90.6,90.6 0 0 0 548.08,190.73L577.82,195.98A120.8,120.8 0 0 1 563.48,235.4Z" fill="#b71c1c"/>
<path d="M548.08,190.73A90.6,90.6 0 0 0 549.46,175L579.66,175A120.8,120.8 0 0 1 577.82,195.98Z" fill="#b71c1c"/>
<path clip-path="url(#snb3)" d="M459.46,175l-120.8,120.8M464.51,175l-120.8,120.8M469.56,175l-120.8,120.8M474.61,175l-120.8,120.8M479.66,175l-120.8,120.8M484.71,175l-120.8,120.8M489.76,175l-120.8,120.8M494.81,175l-120.8,120.8M499.86,175l-120.8,120.8M504.91,175l-120.8,120.8M509.96,175l-120.8,120.8M515.01,175l-120.8,120.8M520.06,175l-120.8,120.8M525.11,175l-120.8,120.8M530.16,175l-120.8,120.8M535.21,175l-120.8,120.8M540.26,175l-120.8,120.8M545.31,175l-120.8,120.8M550.36,175l-120.8,120.8M555.41,175l-120.8,120.8M560.46,175l-120.8,120.8M565.51,175l-120.8,120.8M570.56,175l-120.8,120.8M575.61,175l-120.8,120.8M580.66,175l-120.8,120.8M585.71,175l-120.8,120.8M590.76,175l-120.8,120.8M595.81,175l-120.8,120.8M600.86,175l-120.8,120.8M605.91,175l-120.8,120.8M610.96,175l-120.8,120.8M616.01,175l-120.8,120.8M621.06,175l-120.8,120.8M626.11,175l-120.8,120.8M631.16,175l-120.8,120.8M636.21,175l-120.8,120.8M641.26,175l-120.8,120.8M646.31,175l-120.8,120.8M651.36,175l-120.8,120.8M656.41,175l-120.8,120.8M661.46,175l-120.8,120.8M666.51,175l-120.8,120.8M671.56,175l-120.8,120.8M676.61,175l-120.8,120.8M681.66,175l-120.8,120.8M686.71,175l-120.8,120.8M691.76,175l-120.8,120.8M696.81,175l-120.8,120.8M701.86,175l-120.8,120.8" class="h"/>
<path clip-path="url(#cnb3)" d="M339.96,175l120.8,120.8M345.01,175l120.8,120.8M350.06,175l120.8,120.8M355.11,175l120.8,120.8M360.16,175l120.8,120.8M365.21,175l120.8,120.8M370.26,175l120.8,120.8M375.31,175l120.8,120.8M380.36,175l120.8,120.8M385.41,175l120.8,120.8M390.46,175l120.8,120.8M395.51,175l120.8,120.8M400.56,175l120.8,120.8M405.61,175l120.8,120.8M410.66,175l120.8,120.8M415.71,175l120.8,120.8M420.76,175l120.8,120.8M425.81,175l120.8,120.8M430.86,175l120.8,120.8M435.91,175l120.8,120.8M440.96,175l120.8,120.8M446.01,175l120.8,120.8M451.06,175l120.8,120.8M456.11,175l120.8,120.8M461.16,175l120.8,120.8M466.21,175l120.8,120.8M471.26,175l120.8,120.8M476.31,175l120.8,120.8M481.36,175l120.8,120.8M486.41,175l120.8,120.8M491.46,175l120.8,120.8M496.51,175l120.8,120.8M501.56,175l120.8,120.8M506.61,175l120.8,120.8M511.66,175l120.8,120.8M516.71,175l120.8,120.8M521.76,175l120.8,120.8M526.81,175l120.8,120.8M531.86,175l120.8,120.8M536.91,175l120.8,120.8M541.96,175l120.8,120.8M547.01,175l120.8,120.8M552.06,175l120.8,120.8M557.11,175l120.8,120.8M562.16,175l120.8,120.8M567.21,175l120.8,120.8M572.26,175l120.8,120.8M577.31,175l120.8,120.8M582.36,175l120.8,120.8" class="h"/>
<path clip-path="url(#sgb3)" d="M459.46,175l-120.8,120.8M464.51,175l-120.8,120.8M469.56,175l-120.8,120.8M474.61,175l-120.8,120.8M479.66,175l-120.8,120.8M484.71,175l-120.8,120.8M489.76,175l-120.8,120.8M494.81,175l-120.8,120.8M499.86,175l-120.8,120.8M504.91,175l-120.8,120.8M509.96,175l-120.8,120.8M515.01,175l-120.8,120.8M520.06,175l-120.8,120.8M525.11,175l-120.8,120.8M530.16,175l-120.8,120.8M535.21,175l-120.8,120.8M540.26,175l-120.8,120.8M545.31,175l-120.8,120.8M550.36,175l-120.8,120.8M555.41,175l-120.8,120.8M560.46,175l-120.8,120.8M565.51,175l-120.8,120.8M570.56,175l-120.8,120.8M575.61,175l-120.8,120.8M580.66,175l-120.8,120.8M585.71,175l-120.8,120.8M590.76,175l-120.8,120.8M595.81,175l-120.8,120.8M600.86,175l-120.8,120.8M605.91,175l-120.8,120.8M610.96,175l-120.8,120.8M616.01,175l-120.8,120.8M621.06,175l-120.8,120.8M626.11,175l-120.8,120.8M631.16,175l-120.8,120.8M636.21,175l-120.8,120.8M641.26,175l-120.8,120.8M646.31,175l-120.8,120.8M651.36,175l-120.8,120.8M656.41,175l-120.8,120.8M661.46,175l-120.8,120.8M666.51,175l-120.8,120.8M671.56,175l-120.8,120.8M676.61,175l-120.8,120.8M681.66,175l-120.8,120.8M686.71,175l-120.8,120.8M691.76,175l-120.8,120.8M696.81,175l-120.8,120.8M701.86,175l-120.8,120.8" class="h hg"/>
<path d="M458.86,175L458.86,295.8M458.86,175L500.18,288.51M458.86,175L536.51,267.54M458.86,175L563.48,235.4M458.86,175L577.82,195.98M458.86,175L579.66,175M458.86,205.2A30.2,30.2 0 0 0 489.06,175M458.86,235.4A60.4,60.4 0 0 0 519.26,175M458.86,265.6A90.6,90.6 0 0 0 549.46,175M458.86,295.8A120.8,120.8 0 0 0 579.66,175" class="o"/>
<path d="M604.13,157.7L614.46,129.32A30.2,30.2 0 0 0 604.13,127.5Z" fill="#b71c1c"/>
<path d="M604.13,157.7L623.54,134.57A30.2,30.2 0 0 0 614.46,129.32Z" fill="#ffd54f"/>
<path d="M604.13,157.7L630.28,142.6A30.2,30.2 0 0 0 623.54,134.57Z" fill="#ffd54f"/>
<path d="M604.13,157.7L633.87,152.46A30.2,30.2 0 0 0 630.28,142.6Z" fill="#b71c1c"/>
<path d="M604.13,157.7L634.33,157.7A30.2,30.2 0 0 0 633.87,152.46Z" fill="#b71c1c"/>
<path d="M604.13,127.5A30.2,30.2 0 0 1 614.46,129.32L624.79,100.94A60.4,60.4 0 0 0 604.13,97.3Z" fill="#ffd54f"/>
<path d="M614.46,129.32A30.2,30.2 0 0 1 623.54,134.57L642.95,111.43A60.4,60.4 0 0 0 624.79,100.94Z" fill="#2e7d32"/>
<path d="M623.54,134.57A30.2,30.2 0 0 1 630.28,142.6L656.44,127.5A60.4,60.4 0 0 0 642.95,111.43Z" fill="#b71c1c"/>
<path d="M630.28,142.6A30.2,30.2 0 0 1 633.87,152.46L663.61,147.21A60.4,60.4 0 0 0 656.44,127.5Z" fill="#b71c1c"/>
<path d="M633.87,152.46A30.2,30.2 0 0 1 634.33,157.7L664.53,157.7A60.4,60.4 0 0 0 663.61,147.21Z" fill="#b71c1c"/>
<path d="M604.13,97.3A60.4,60.4 0 0 1 624.79,100.94L635.12,72.56A90.6,90.6 0 0 0 604.13,67.1Z" fill="#ffd54f"/>
<path d="M624.79,100.94A60.4,60.4 0 0 1 642.95,111.43L662.37,88.3A90.6,90.6 0 0 0 635.12,72.56Z" fill="#ffd54f"/>
<path d="M642.95,111.43A60.4,60.4 0 0 1 656.44,127.5L682.59,112.4A90.6,90.6 0 0 0 662.37,88.3Z" fill="#ffd54f"/>
<path d="M656.44,127.5A60.4,60.4 0 0 1 663.61,147.21L693.35,141.97A90.6,90.6 0 0 0 682.59,112.4Z" fill="#ffd54f"/>
<path d="M663.61,147.21A60.4,60.4 0 0 1 664.53,157.7L694.73,157.7A90.6,90.6 0 0 0 693.35,141.97Z" fill="#b71c1c"/>
<path d="M604.13,67.1A90.6,90.6 0 0 1 635.12,72.56L645.45,44.19A120.8,120.8 0 0 0 604.13,36.9Z" fill="#ffd54f"/>
<path d="M635.12,72.56A90.6,90.6 0 0 1 662.37,88.3L681.78,65.16A120.8,120.8 0 0 0 645.45,44.19Z" fill="#ffd54f"/>
<path d="M662.37,88.3A90.6,90.6 0 0 1 682.59,112.4L708.75,97.3A120.8,120.8 0 0 0 681.78,65.16Z" fill="#ffd54f"/>
<path d="M682.59,112.4A90.6,90.6 0 0 1 693.35,141.97L723.09,136.72A120.8,120.8 0 0 0 708.75,97.3Z" fill="#b71c1c"/>
<path d="M693.35,141.97A90.6,90.6 0 0 1 694.73,157.7L724.93,157.7A120.8,120.8 0 0 0 723.09,136.72Z" fill="#b71c1c"/>
<path clip-path="url(#snt4)" d="M604.73,36.9l-120.8,120.8M609.78,36.9l-120.8,120.8M614.83,36.9l-120.8,120.8M619.88,36.9l-120.8,120.8M624.93,36.9l-120.8,120.8M629.98,36.9l-120.8,120.8M635.03,36.9l-120.8,120.8M640.08,36.9l-120.8,120.8M645.13,36.9l-120.8,120.8M650.18,36.9l-120.8,120.8M655.23,36.9l-120.8,120.8M660.28,36.9l-120.8,120.8M665.33,36.9l-120.8,120.8M670.38,36.9l-120.8,120.8M675.43,36.9l-120.8,120.8M680.48,36.9l-120.8,120.8M685.53,36.9l-120.8,120.8M690.58,36.9l-120.8,120.8M695.63,36.9l-120.8,120.8M700.68,36.9l-120.8,120.8M705.73,36.9l-120.8,120.8M710.78,36.9l-120.8,120.8M715.83,36.9l-120.8,120.8M720.88,36.9l-120.8,120.8M725.93,36.9l-120.8,120.8M730.98,36.9l-120.8,120.8M736.03,36.9l-120.8,120.8M741.08,36.9l-120.8,120.8M746.13,36.9l-120.8,120.8M751.18,36.9l-120.8,120.8M756.23,36.9l-120.8,120.8M761.28,36.9l-120.8,120.8M766.33,36.9l-120.8,120.8M771.38,36.9l-120.8,120.8M776.43,36.9l-120.8,120.8M781.48,36.9l-120.8,120.8M786.53,36.9l-120.8,120.8M791.58,36.9l-120.8,120.8M796.63,36.9l-120.8,120.8M801.68,36.9l-120.8,120.8M806.73,36.9l-120.8,120.8M811.78,36.9l-120.8,120.8M816.83,36.9l-120.8,120.8M821.88,36.9l-120.8,120.8M826.93,36.9l-120.8,120.8M831.98,36.9l-120.8,120.8M837.03,36.9l-120.8,120.8M842.08,36.9l-120.8,120.8M847.13,36.9l-120.8,120.8" class="h"/>
<path clip-path="url(#cnt4)" d="M485.23,36.9l120.8,120.8M490.28,36.9l120.8,120.8M495.33,36.9l120.8,120.8M500.38,36.9l120.8,120.8M505.43,36.9l120.8,120.8M510.48,36.9l120.8,120.8M515.53,36.9l120.8,120.8M520.58,36.9l120.8,120.8M525.63,36.9l120.8,120.8M530.68,36.9l120.8,120.8M535.73,36.9l120.8,120.8M540.78,36.9l120.8,120.8M545.83,36.9l120.8,120.8M550.88,36.9l120.8,120.8M555.93,36.9l120.8,120.8M560.98,36.9l120.8,120.8M566.03,36.9l120.8,120.8M571.08,36.9l120.8,120.8M576.13,36.9l120.8,120.8M581.18,36.9l120.8,120.8M586.23,36.9l120.8,120.8M591.28,36.9l120.8,120.8M596.33,36.9l120.8,120.8M601.38,36.9l120.8,120.8M606.43,36.9l120.8,120.8M611.48,36.9l120.8,120.8M616.53,36.9l120.8,120.8M621.58,36.9l120.8,120.8M626.63,36.9l120.8,120.8M631.68,36.9l120.8,120.8M636.73,36.9l120.8,120.8M641.78,36.9l120.8,120.8M646.83,36.9l120.8,120.8M651.88,36.9l120.8,120.8M656.93,36.9l120.8,120.8M661.98,36.9l120.8,120.8M667.03,36.9l120.8,120.8M672.08,36.9l120.8,120.8M677.13,36.9l120.8,120.8M682.18,36.9l120.8,120.8M687.23,36.9l120.8,120.8M692.28,36.9l120.8,120.8M697.33,36.9l120.8,120.8M702.38,36.9l120.8,120.8M707.43,36.9l120.8,120.8M712.48,36.9l120.8,120.8M717.53,36.9l120.8,120.8M722.58,36.9l120.8,120.8M727.63,36.9l120.8,120.8" class="h"/>
<path clip-path="url(#sgt4)" d="M604.73,36.9l-120.8,120.8M609.78,36.9l-120.8,120.8M614.83,36.9l-120.8,120.8M619.88,36.9l-120.8,120.8M624.93,36.9l-120.8,120.8M629.98,36.9l-120.8,120.8M635.03,36.9l-120.8,120.8M640.08,36.9l-120.8,120.8M645.13,36.9l-120.8,120.8M650.18,36.9l-120.8,120.8M655.23,36.9l-120.8,120.8M660.28,36.9l-120.8,120.8M665.33,36.9l-120.8,120.8M670.38,36.9l-120.8,120.8M675.43,36.9l-120.8,120.8M680.48,36.9l-120.8,120.8M685.53,36.9l-120.8,120.8M690.58,36.9l-120.8,120.8M695.63,36.9l-120.8,120.8M700.68,36.9l-120.8,120.8M705.73,36.9l-120.8,120.8M710.78,36.9l-120.8,120.8M715.83,36.9l-120.8,120.8M720.88,36.9l-120.8,120.8M725.93,36.9l-120.8,120.8M730.98,36.9l-120.8,120.8M736.03,36.9l-120.8,120.8M741.08,36.9l-120.8,120.8M746.13,36.9l-120.8,120.8M751.18,36.9l-120.8,120.8M756.23,36.9l-120.8,120.8M761.28,36.9l-120.8,120.8M766.33,36.9l-120.8,120.8M771.38,36.9l-120.8,120.8M776.43,36.9l-120.8,120.8M781.48,36.9l-120.8,120.8M786.53,36.9l-120.8,120.8M791.58,36.9l-120.8,120.8M796.63,36.9l-120.8,120.8M801.68,36.9l-120.8,120.8M806.73,36.9l-120.8,120.8M811.78,36.9l-120.8,120.8M816.83,36.9l-120.8,120.8M821.88,36.9l-120.8,120.8M826.93,36.9l-120.8,120.8M831.98,36.9l-120.8,120.8M837.03,36.9l-120.8,120.8M842.08,36.9l-120.8,120.8M847.13,36.9l-120.8,120.8" class="h hg"/>
<path d="M604.13,157.7L604.13,36.9M604.13,157.7L645.45,44.19M604.13,157.7L681.78,65.16M604.13,157.7L708.75,97.3M604.13,157.7L723.09,136.72M604.13,157.7L724.93,157.7M604.13,127.5A30.2,30.2 0 0 1 634.33,157.7M604.13,97.3A60.4,60.4 0 0 1 664.53,157.7M604.13,67.1A90.6,90.6 0 0 1 694.73,157.7M604.13,36.9A120.8,120.8 0 0 1 724.93,157.7" class="o"/>
<path d="M604.13,175L614.46,203.38A30.2,30.2 0 0 1 604.13,205.2Z" fill="#b71c1c"/>
<path d="M604.13,175L623.54,198.13A30.2,30.2 0 0 1 614.46,203.38Z" fill="#ffd54f"/>
<path d="M604.13,175L630.28,190.1A30.2,30.2 0 0 1 623.54,198.13Z" fill="#ffd54f"/>
<path d="M604.13,175L633.87,180.24A30.2,30.2 0 0 1 630.28,190.1Z" fill="#b71c1c"/>
<path d="M604.13,175L634.33,175A30.2,30.2 0 0 1 633.87,180.24Z" fill="#b71c1c"/>
<path d="M604.13,205.2A30.2,30.2 0 0 0 614.46,203.38L624.79,231.76A60.4,60.4 0 0 1 604.13,235.4Z" fill="#2e7d32"/>
<path d="M614.46,203.38A30.2,30.2 0 0 0 623.54,198.13L642.95,221.27A60.4,60.4 0 0 1 624.79,231.76Z" fill="#2e7d32"/>
<path d="M623.54,198.13A30.2,30.2 0 0 0 630.28,190.1L656.44,205.2A60.4,60.4 0 0 1 642.95,221.27Z" fill="#ffd54f"/>
<path d="M630.28,190.1A30.2,30.2 0 0 0 633.87,180.24L663.61,185.49A60.4,60.4 0 0 1 656.44,205.2Z" fill="#b71c1c"/>
<path d="M633.87,180.24A30.2,30.2 0 0 0 634.33,175L664.53,175A60.4,60.4 0 0 1 663.61,185.49Z" fill="#b71c1c"/>
<path d="M604.13,235.4A60.4,60.4 0 0 0 624.79,231.76L635.12,260.14A90.6,90.6 0 0 1 604.13,265.6Z" fill="#2e7d32"/>
<path d="M624.79,231.76A60.4,60.4 0 0 0 642.95,221.27L662.37,244.4A90.6,90.6 0 0 1 635.12,260.14Z" fill="#2e7d32"/>
<path d="M642.95,221.27A60.4,60.4 0 0 0 656.44,205.2L682.59,220.3A90.6,90.6 0 0 1 662.37,244.4Z" fill="#ffd54f"/>
<path d="M656.44,205.2A60.4,60.4 0 0 0 663.61,185.49L693.35,190.73A90.6,90.6 0 0 1 682.59,220.3Z" fill="#b71c1c"/>
<path d="M663.61,185.49A60.4,60.4 0 0 0 664.53,175L694.73,175A90.6,90.6 0 0 1 693.35,190.73Z" fill="#b71c1c"/>
<path d="M604.13,265.6A90.6,90.6 0 0 0 635.12,260.14L645.45,288.51A120.8,120.8 0 0 1 604.13,295.8Z" fill="#2e7d32"/>
<path d="M635.12,260.14A90.6,90.6 0 0 0 662.37,244.4L681.78,267.54A120.8,120.8 0 0 1 645.45,288.51Z" fill="#2e7d32"/>
<path d="M662.37,244.4A90.6,90.6 0 0 0 682.59,220.3L708.75,235.4A120.8,120.8 0 0 1 681.78,267.54Z" fill="#2e7d32"/>
<path d="M682.59,220.3A90.6,90.6 0 0 0 693.35,190.73L723.09,195.98A120.8,120.8 0 0 1 708.75,235.4Z" fill="#b71c1c"/>
<path d="M693.35,190.73A90.6,90.6 0 0 0 694.73,175L724.93,175A120.8,120.8 0 0 1 723.09,195.98Z" fill="#b71c1c"/>
<path clip-path="url(#snb4)" d="M604.73,175l-120.8,120.8M609.78,175l-120.8,120.8M614.83,175l-120.8,120.8M619.88,175l-120.8,120.8M624.93,175l-120.8,120.8M629.98,175l-120.8,120.8M635.03,175l-120.8,120.8M640.08,175l-120.8,120.8M645.13,175l-120.8,120.8M650.18,175l-120.8,120.8M655.23,175l-120.8,120.8M660.28,175l-120.8,120.8M665.33,175l-120.8,120.8M670.38,175l-120.8,120.8M675.43,175l-120.8,120.8M680.48,175l-120.8,120.8M685.53,175l-120.8,120.8M690.58,175l-120.8,120.8M695.63,175l-120.8,120.8M700.68,175l-120.8,120.8M705.73,175l-120.8,120.8M710.78,175l-120.8,120.8M715.83,175l-120.8,120.8M720.88,175l-120.8,120.8M725.93,175l-120.8,120.8M730.98,175l-120.8,120.8M736.03,175l-120.8,120.8M741.08,175l-120.8,120.8M746.13,175l-120.8,120.8M751.18,175l-120.8,120.8M756.23,175l-120.8,120.8M761.28,175l-120.8,120.8M766.33,175l-120.8,120.8M771.38,175l-120.8,120.8M776.43,175l-120.8,120.8M781.48,175l-120.8,120.8M786.53,175l-120.8,120.8M791.58,175l-120.8,120.8M796.63,175l-120.8,120.8M801.68,175l-120.8,120.8M806.73,175l-120.8,120.8M811.78,175l-120.8,120.8M816.83,175l-120.8,120.8M821.88,175l-120.8,120.8M826.93,175l-120.8,120.8M831.98,175l-120.8,120.8M837.03,175l-120.8,120.8M842.08,175l-120.8,120.8M847.13,175l-120.8,120.8" class="h"/>
<path clip-path="url(#cnb4)" d="M485.23,175l120.8,120.8M490.28,175l120.8,120.8M495.33,175l120.8,120.8M500.38,175l120.8,120.8M505.43,175l120.8,120.8M510.48,175l120.8,120.8M515.53,175l120.8,120.8M520.58,175l120.8,120.8M525.63,175l120.8,120.8M530.68,175l120.8,120.8M535.73,175l120.8,120.8M540.78,175l120.8,120.8M545.83,175l120.8,120.8M550.88,175l120.8,120.8M555.93,175l120.8,120.8M560.98,175l120.8,120.8M566.03,175l120.8,120.8M571.08,175l120.8,120.8M576.13,175l120.8,120.8M581.18,175l120.8,120.8M586.23,175l120.8,120.8M591.28,175l120.8,120.8M596.33,175l120.8,120.8M601.38,175l120.8,120.8M606.43,175l120.8,120.8M611.48,175l120.8,120.8M616.53,175l120.8,120.8M621.58,175l120.8,120.8M626.63,175l120.8,120.8M631.68,175l120.8,120.8M636.73,175l120.8,120.8M641.78,175l120.8,120.8M646.83,175l120.8,120.8M651.88,175l120.8,120.8M656.93,175l120.8,120.8M661.98,175l120.8,120.8M667.03,175l120.8,120.8M672.08,175l120.8,120.8M677.13,175l120.8,120.8M682.18,175l120.8,120.8M687.23,175l120.8,120.8M692.28,175l120.8,120.8M697.33,175l120.8,120.8M702.38,175l120.8,120.8M707.43,175l120.8,120.8M712.48,175l120.8,120.8M717.53,175l120.8,120.8M722.58,175l120.8,120.8M727.63,175l120.8,120.8" class="h"/>
<path clip-path="url(#sgb4)" d="M604.73,175l-120.8,120.8M609.78,175l-120.8,120.8M614.83,175l-120.8,120.8M619.88,175l-120.8,120.8M624.93,175l-120.8,120.8M629.98,175l-120.8,120.8M635.03,175l-120.8,120.8M640.08,175l-120.8,120.8M645.13,175l-120.8,120.8M650.18,175l-120.8,120.8M655.23,175l-120.8,120.8M660.28,175l-120.8,120.8M665.33,175l-120.8,120.8M670.38,175l-120.8,120.8M675.43,175l-120.8,120.8M680.48,175l-120.8,120.8M685.53,175l-120.8,120.8M690.58,175l-120.8,120.8M695.63,175l-120.8,120.8M700.68,175l-120.8,120.8M705.73,175l-120.8,120.8M710.78,175l-120.8,120.8M715.83,175l-120.8,120.8M720.88,175l-120.8,120.8M725.93,175l-120.8,120.8M730.98,175l-120.8,120.8M736.03,175l-120.8,120.8M741.08,175l-120.8,120.8M746.13,175l-120.8,120.8M751.18,175l-120.8,120.8M756.23,175l-120.8,120.8M761.28,175l-120.8,120.8M766.33,175l-120.8,120.8M771.38,175l-120.8,120.8M776.43,175l-120.8,120.8M781.48,175l-120.8,120.8M786.53,175l-120.8,120.8M791.58,175l-120.8,120.8M796.63,175l-120.8,120.8M801.68,175l-120.8,120.8M806.73,175l-120.8,120.8M811.78,175l-120.8,120.8M816.83,175l-120.8,120.8M821.88,175l-120.8,120.8M826.93,175l-120.8,120.8M831.98,175l-120.8,120.8M837.03,175l-120.8,120.8M842.08,175l-120.8,120.8M847.13,175l-120.8,120.8" class="h hg"/>
<path clip-path="url(#cgb4)" d="M485.23,175l120.8,120.8M490.28,175l120.8,120.8M495.33,175l120.8,120.8M500.38,175l120.8,120.8M505.43,175l120.8,120.8M510.48,175l120.8,120.8M515.53,175l120.8,120.8M520.58,175l120.8,120.8M525.63,175l120.8,120.8M530.68,175l120.8,120.8M535.73,175l120.8,120.8M540.78,175l120.8,120.8M545.83,175l120.8,120.8M550.88,175l120.8,120.8M555.93,175l120.8,120.8M560.98,175l120.8,120.8M566.03,175l120.8,120.8M571.08,175l120.8,120.8M576.13,175l120.8,120.8M581.18,175l120.8,120.8M586.23,175l120.8,120.8M591.28,175l120.8,120.8M596.33,175l120.8,120.8M601.38,175l120.8,120.8M606.43,175l120.8,120.8M611.48,175l120.8,120.8M616.53,175l120.8,120.8M621.58,175l120.8,120.8M626.63,175l120.8,120.8M631.68,175l120.8,120.8M636.73,175l120.8,120.8M641.78,175l120.8,120.8M646.83,175l120.8,120.8M651.88,175l120.8,120.8M656.93,175l120.8,120.8M661.98,175l120.8,120.8M667.03,175l120.8,120.8M672.08,175l120.8,120.8M677.13,175l120.8,120.8M682.18,175l120.8,120.8M687.23,175l120.8,120.8M692.28,175l120.8,120.8M697.33,175l120.8,120.8M702.38,175l120.8,120.8M707.43,175l120.8,120.8M712.48,175l120.8,120.8M717.53,175l120.8,120.8M722.58,175l120.8,120.8M727.63,175l120.8,120.8" class="h hg"/>
<path d="M604.13,175L604.13,295.8M604.13,175L645.45,288.51M604.13,175L681.78,267.54M604.13,175L708.75,235.4M604.13,175L723.09,195.98M604.13,175L724.93,175M604.13,205.2A30.2,30.2 0 0 0 634.33,175M604.13,235.4A60.4,60.4 0 0 0 664.53,175M604.13,265.6A90.6,90.6 0 0 0 694.73,175M604.13,295.8A120.8,120.8 0 0 0 724.93,175" class="o"/>
<rect x="8" y="315.3" width="13.5" height="9.4" fill="#2e7d32"/>
<rect x="8" y="315.3" width="13.5" height="9.4" fill="none" stroke="#000" stroke-width="1.2"/>
<rect x="115.3" y="315.3" width="13.5" height="9.4" fill="#ffd54f"/>
<rect x="115.3" y="315.3" width="13.5" height="9.4" fill="none" stroke="#000" stroke-width="1.2"/>
<rect x="235.5" y="315.3" width="13.5" height="9.4" fill="#b71c1c"/>
<rect x="235.5" y="315.3" width="13.5" height="9.4" fill="none" stroke="#000" stroke-width="1.2"/>
<rect x="340.5" y="315.3" width="13.5" height="9.4" fill="#fff"/>
<rect x="340.5" y="315.3" width="13.5" height="9.4" fill="none" stroke="#000" stroke-width="1"/>
<rect x="470.6" y="315.3" width="13.5" height="9.4" fill="#fff"/>
<path clip-path="url(#l4)" d="M472.6,315.3l-9.4,9.4M477.2,315.3l-9.4,9.4M481.8,315.3l-9.4,9.4M486.4,315.3l-9.4,9.4M491,315.3l-9.4,9.4M495.6,315.3l-9.4,9.4" class="h" style="stroke-width:0.7"/>
<rect x="470.6" y="315.3" width="13.5" height="9.4" fill="none" stroke="#000" stroke-width="1"/>
<rect x="614.5" y="315.3" width="13.5" height="9.4" fill="#fff"/>
<path clip-path="url(#l5)" d="M616.5,315.3l-9.4,9.4M621.1,315.3l-9.4,9.4M625.7,315.3l-9.4,9.4M630.3,315.3l-9.4,9.4M634.9,315.3l-9.4,9.4M639.5,315.3l-9.4,9.4M606.1,315.3l9.4,9.4M610.7,315.3l9.4,9.4M615.3,315.3l9.4,9.4M619.9,315.3l9.4,9.4M624.5,315.3l9.4,9.4M629.1,315.3l9.4,9.4" class="h" style="stroke-width:0.7"/>
<rect x="614.5" y="315.3" width="13.5" height="9.4" fill="none" stroke="#000" stroke-width="1"/>
<g style="filter:grayscale(1)">
<text x="83" y="10.2" text-anchor="middle"><tspan font-style="italic">a</tspan><tspan font-size="9.5" dx="1.9" dy="2.1">*</tspan><tspan dy="-2.1" dx="1.2"> = -0.94</tspan></text>
<text x="38.3" y="28.3">10°</text>
<text x="81.5" y="44.4">30°</text>
<text x="126" y="55.3" font-style="italic">i</text>
<text x="117" y="74.6">50°</text>
<text x="141" y="115.4">70°</text>
<text x="148.5" y="149.5">90°</text>
<text x="148.5" y="190">90°</text>
<text x="141" y="224.4">70°</text>
<text x="117.7" y="265.2">50°</text>
<text x="126" y="287" font-style="italic">i</text>
<text x="81.5" y="294.4">30°</text>
<text x="39" y="309.8">10°</text>
<text x="38" y="169.4" text-anchor="middle" style="font-size:10.4px">1</text>
<text x="68.6" y="169.4" text-anchor="middle" style="font-size:10.4px">10</text>
<text x="98.8" y="169.4" text-anchor="middle" style="font-size:10.4px">40</text>
<text x="129" y="169.4" text-anchor="middle" style="font-size:10.4px">160</text>
<text x="228.1" y="10.2" text-anchor="middle"><tspan font-style="italic">a</tspan><tspan font-size="9.5" dx="1.9" dy="2.1">*</tspan><tspan dy="-2.1" dx="1.2"> = -0.5</tspan></text>
<text x="183.4" y="28.3">10°</text>
<text x="226.6" y="44.4">30°</text>
<text x="271.1" y="55.3" font-style="italic">i</text>
<text x="262.1" y="74.6">50°</text>
<text x="286.1" y="115.4">70°</text>
<text x="293.6" y="149.5">90°</text>
<text x="293.6" y="190">90°</text>
<text x="286.1" y="224.4">70°</text>
<text x="262.8" y="265.2">50°</text>
<text x="271.1" y="287" font-style="italic">i</text>
<text x="226.6" y="294.4">30°</text>
<text x="184.1" y="309.8">10°</text>
<text x="183.1" y="169.4" text-anchor="middle" style="font-size:10.4px">1</text>
<text x="213.7" y="169.4" text-anchor="middle" style="font-size:10.4px">10</text>
<text x="243.9" y="169.4" text-anchor="middle" style="font-size:10.4px">40</text>
<text x="274.1" y="169.4" text-anchor="middle" style="font-size:10.4px">160</text>
<text x="373.2" y="10.2" text-anchor="middle"><tspan font-style="italic">a</tspan><tspan font-size="9.5" dx="1.9" dy="2.1">*</tspan><tspan dy="-2.1" dx="1.2"> = 0.0</tspan></text>
<text x="328.5" y="28.3">10°</text>
<text x="371.7" y="44.4">30°</text>
<text x="416.2" y="55.3" font-style="italic">i</text>
<text x="407.2" y="74.6">50°</text>
<text x="431.2" y="115.4">70°</text>
<text x="438.7" y="149.5">90°</text>
<text x="438.7" y="190">90°</text>
<text x="431.2" y="224.4">70°</text>
<text x="407.9" y="265.2">50°</text>
<text x="416.2" y="287" font-style="italic">i</text>
<text x="371.7" y="294.4">30°</text>
<text x="329.2" y="309.8">10°</text>
<text x="328.2" y="169.4" text-anchor="middle" style="font-size:10.4px">1</text>
<text x="358.8" y="169.4" text-anchor="middle" style="font-size:10.4px">10</text>
<text x="389" y="169.4" text-anchor="middle" style="font-size:10.4px">40</text>
<text x="419.2" y="169.4" text-anchor="middle" style="font-size:10.4px">160</text>
<text x="518.3" y="10.2" text-anchor="middle"><tspan font-style="italic">a</tspan><tspan font-size="9.5" dx="1.9" dy="2.1">*</tspan><tspan dy="-2.1" dx="1.2"> = 0.5</tspan></text>
<text x="473.6" y="28.3">10°</text>
<text x="516.8" y="44.4">30°</text>
<text x="561.3" y="55.3" font-style="italic">i</text>
<text x="552.3" y="74.6">50°</text>
<text x="576.3" y="115.4">70°</text>
<text x="583.8" y="149.5">90°</text>
<text x="583.8" y="190">90°</text>
<text x="576.3" y="224.4">70°</text>
<text x="553" y="265.2">50°</text>
<text x="561.3" y="287" font-style="italic">i</text>
<text x="516.8" y="294.4">30°</text>
<text x="474.3" y="309.8">10°</text>
<text x="473.3" y="169.4" text-anchor="middle" style="font-size:10.4px">1</text>
<text x="503.9" y="169.4" text-anchor="middle" style="font-size:10.4px">10</text>
<text x="534.1" y="169.4" text-anchor="middle" style="font-size:10.4px">40</text>
<text x="564.3" y="169.4" text-anchor="middle" style="font-size:10.4px">160</text>
<text x="663.4" y="10.2" text-anchor="middle"><tspan font-style="italic">a</tspan><tspan font-size="9.5" dx="1.9" dy="2.1">*</tspan><tspan dy="-2.1" dx="1.2"> = 0.94</tspan></text>
<text x="618.7" y="28.3">10°</text>
<text x="661.9" y="44.4">30°</text>
<text x="706.4" y="55.3" font-style="italic">i</text>
<text x="697.4" y="74.6">50°</text>
<text x="721.4" y="115.4">70°</text>
<text x="728.9" y="149.5">90°</text>
<text x="728.9" y="190">90°</text>
<text x="721.4" y="224.4">70°</text>
<text x="698.1" y="265.2">50°</text>
<text x="706.4" y="287" font-style="italic">i</text>
<text x="661.9" y="294.4">30°</text>
<text x="619.4" y="309.8">10°</text>
<text x="618.4" y="169.4" text-anchor="middle" style="font-size:10.4px">1</text>
<text x="649" y="169.4" text-anchor="middle" style="font-size:10.4px">10</text>
<text x="679.2" y="169.4" text-anchor="middle" style="font-size:10.4px">40</text>
<text x="709.4" y="169.4" text-anchor="middle" style="font-size:10.4px">160</text>
<text x="1.3" y="167.8"><tspan font-style="italic" font-size="13.4">R</tspan><tspan font-size="8.6" dy="1.6">high</tspan></text>
<text transform="translate(15.1,97.2) rotate(-90)" text-anchor="middle" style="font-size:12.6px">SANE</text>
<text transform="translate(15.1,234.8) rotate(-90)" text-anchor="middle" style="font-size:12.6px">MAD</text>
<text x="22.9" y="324.2">EHT Pass All</text>
<text x="130.2" y="324.2">EHT Pass Some</text>
<text x="250.4" y="324.2">EHT Fail All</text>
<text x="355.4" y="324.2">non-EHT Pass All</text>
<text x="485.5" y="324.2">non-EHT Pass Some</text>
<text x="629.4" y="324.2">non-EHT Fail All</text>
</g>
</svg>
</body></html>
